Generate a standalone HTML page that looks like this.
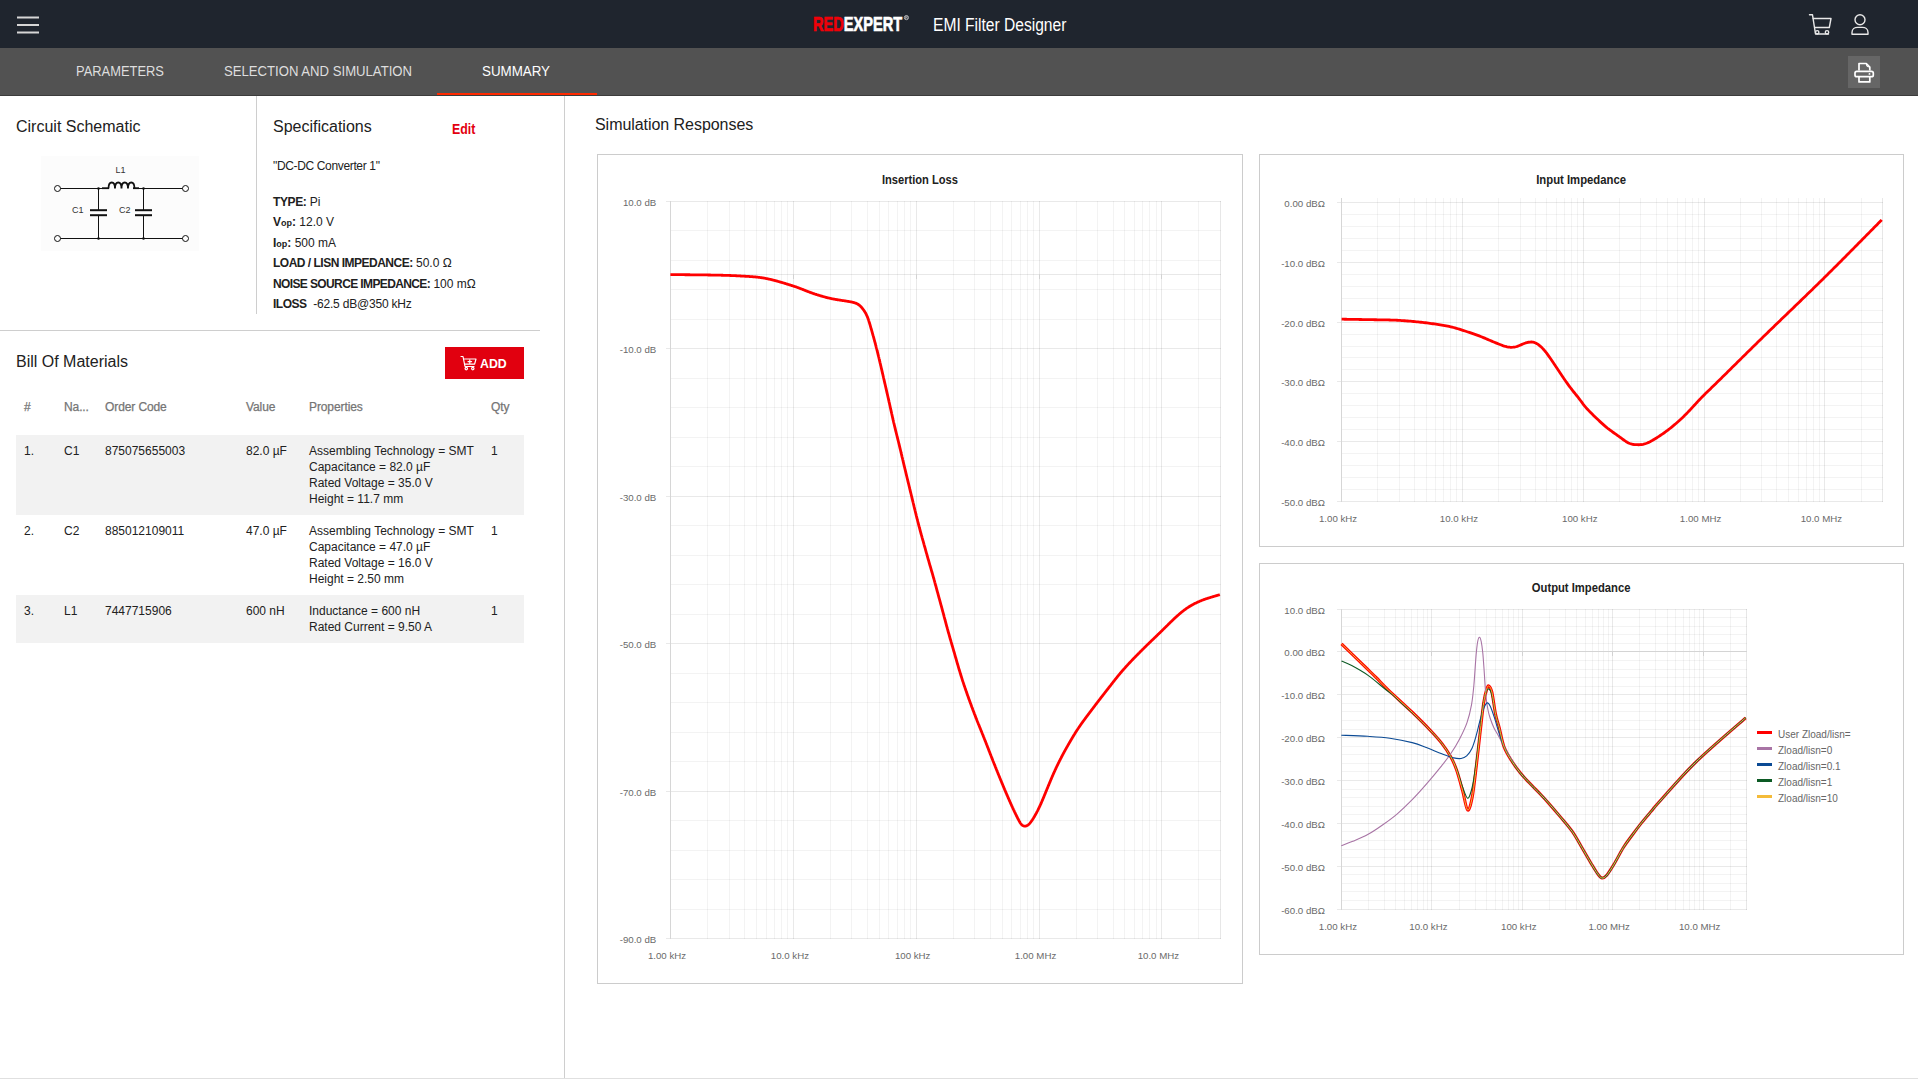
<!DOCTYPE html>
<html><head><meta charset="utf-8">
<style>
*{box-sizing:border-box;margin:0;padding:0}
html,body{width:1918px;height:1079px;overflow:hidden;background:#fff;font-family:"Liberation Sans",sans-serif;color:#212121}
.abs{position:absolute;white-space:nowrap}
#hdr{position:absolute;left:0;top:0;width:1918px;height:48px;background:#1f252e}
#tabs{position:absolute;left:0;top:48px;width:1918px;height:48px;background:#525252;border-bottom:1px solid #3c3c3c}
.tab{position:absolute;top:15px;font-size:14px;color:#dedede;line-height:16px;transform-origin:0 0;white-space:nowrap}
.h{font-size:16px;color:#212121;line-height:18px}
.sp{font-size:12px;line-height:14px;color:#212121}
.sp b{font-weight:700}
.th{font-size:12px;color:#757575;line-height:14px;font-weight:400;-webkit-text-stroke-width:0.25px;letter-spacing:-0.1px}
.td{font-size:12px;color:#212121;line-height:16px}
.charts{position:absolute;left:0;top:0}
.al{font-family:"Liberation Sans",sans-serif;font-size:9.7px;fill:#6a6a6a}
.ct{font-family:"Liberation Sans",sans-serif;font-size:12px;font-weight:700;fill:#212121}
.lg{font-family:"Liberation Sans",sans-serif;font-size:10px;fill:#666}
</style></head><body>
<div id="hdr">
  <svg class="abs" style="left:0;top:0" width="60" height="48">
    <g stroke="#d6d6d6" stroke-width="2"><line x1="17" y1="17.5" x2="39" y2="17.5"/><line x1="17" y1="25" x2="39" y2="25"/><line x1="17" y1="32.5" x2="39" y2="32.5"/></g>
  </svg>
  <div class="abs" style="left:813px;top:12px;font-size:20.4px;font-weight:700;line-height:24px;transform:scaleX(0.715);transform-origin:0 0;-webkit-text-stroke-width:0.7px"><span style="color:#f00008">RED</span><span style="color:#fff">EXPERT</span></div>
  <svg class="abs" style="left:902px;top:13px" width="9" height="9" viewBox="902 13 9 9"><circle cx="906.4" cy="17.6" r="2.1" fill="none" stroke="#d0d0d0" stroke-width="0.8"/><path d="M905.6,19 V16.3 H906.8 Q907.5,16.3 907.5,16.95 Q907.5,17.6 906.8,17.6 H905.6 M906.7,17.6 L907.5,19" fill="none" stroke="#d0d0d0" stroke-width="0.6"/></svg>
  <div class="abs" style="left:932.5px;top:14.5px;font-size:18px;color:#fff;line-height:20px;transform:scaleX(0.866);transform-origin:0 0">EMI Filter Designer</div>
  <svg class="abs" style="left:1800px;top:8px" width="80" height="34" viewBox="1800 8 80 34">
    <g fill="none" stroke="#e8e8e8" stroke-width="1.4" stroke-linejoin="round" stroke-linecap="round">
      <path d="M1809.5,14.8 H1812.5 L1815.5,34 H1828.5"/>
      <path d="M1813.2,18.5 H1831 L1829.3,27.5 H1814.7"/>
      <circle cx="1817.2" cy="32.3" r="1.7"/><circle cx="1827" cy="32.3" r="1.7"/>
      <circle cx="1860" cy="19.8" r="5"/>
      <path d="M1852,34.3 V32.5 C1852,29 1855,27.4 1857.5,27.4 H1862.5 C1865,27.4 1868,29 1868,32.5 V34.3 Z"/>
    </g>
  </svg>
</div>
<div id="tabs">
  <div class="tab" style="left:76.2px;transform:scaleX(0.922)">PARAMETERS</div>
  <div class="tab" style="left:224px;transform:scaleX(0.938)">SELECTION AND SIMULATION</div>
  <div class="tab" style="left:482px;color:#fff;transform:scaleX(0.954)">SUMMARY</div>
  <div class="abs" style="left:437px;top:45px;width:160px;height:2px;background:#ff2a00"></div>
  <div class="abs" style="left:1848px;top:8px;width:32px;height:32px;background:#666"></div>
  <svg class="abs" style="left:1848px;top:8px" width="32" height="32" viewBox="1848 56 32 32">
    <g fill="none" stroke="#fff" stroke-width="1.7" stroke-linejoin="round">
      <path d="M1859,70.6 V63.5 H1866.3 L1869.8,67 V70.6"/>
      <path d="M1866.3,63.5 Q1866.3,66.9 1869.8,67" stroke-width="1.1"/>
      <rect x="1855" y="71.3" width="18.3" height="5.4" rx="1.8"/>
      <path d="M1859,77 V81.9 H1869.8 V77"/>
    </g>
    <circle cx="1869.5" cy="73.9" r="0.95" fill="#fff"/>
  </svg>
</div>

<!-- dividers -->
<div class="abs" style="left:256px;top:96px;width:1px;height:218px;background:#cecece"></div>
<div class="abs" style="left:0;top:330px;width:540px;height:1px;background:#cecece"></div>
<div class="abs" style="left:564px;top:96px;width:1px;height:983px;background:#cecece"></div>
<div class="abs" style="left:0;top:1078px;width:1918px;height:1px;background:#e0e0e0"></div>

<!-- Circuit schematic -->
<div class="abs h" style="left:16px;top:118px">Circuit Schematic</div>
<svg class="abs" style="left:41px;top:156px" width="158" height="95" viewBox="41 156 158 95">
  <rect x="41" y="156" width="158" height="95" fill="#fcfcfc"/>
  <g stroke="#111" stroke-width="1" fill="none">
    <line x1="60.5" y1="188.5" x2="98.5" y2="188.5"/>
    <line x1="98.5" y1="188.5" x2="108" y2="188.5"/>
    <line x1="134" y1="188.5" x2="182.5" y2="188.5"/>
    <line x1="60.5" y1="238.5" x2="182.5" y2="238.5"/>
    <line x1="98.5" y1="188.5" x2="98.5" y2="210"/>
    <line x1="98.5" y1="215" x2="98.5" y2="238.5"/>
    <line x1="143.5" y1="188.5" x2="143.5" y2="210"/>
    <line x1="143.5" y1="215" x2="143.5" y2="238.5"/>
    <circle cx="57.5" cy="188.5" r="3"/><circle cx="185.5" cy="188.5" r="3"/>
    <circle cx="57.5" cy="238.5" r="3"/><circle cx="185.5" cy="238.5" r="3"/>
  </g>
  <g stroke="#111" stroke-width="1.8" fill="none">
    <line x1="102" y1="188.2" x2="109" y2="188.2"/>
    <line x1="133" y1="188.2" x2="139" y2="188.2"/>
    <path d="M108.5,188.5 C108.5,180.5 115,180.5 115,188.5 C115,180.5 121.5,180.5 121.5,188.5 C121.5,180.5 128,180.5 128,188.5 C128,180.5 134.5,180.5 134.5,188.5"/>
  </g>
  <g stroke="#111" stroke-width="2" fill="none">
    <line x1="90" y1="210.2" x2="107" y2="210.2"/><line x1="90" y1="215.2" x2="107" y2="215.2"/>
    <line x1="135" y1="210.2" x2="152" y2="210.2"/><line x1="135" y1="215.2" x2="152" y2="215.2"/>
  </g>
  <g fill="#111"><circle cx="98.5" cy="188.5" r="1.3"/><circle cx="143.5" cy="188.5" r="1.3"/><circle cx="98.5" cy="238.5" r="1.3"/><circle cx="143.5" cy="238.5" r="1.3"/></g>
  <g font-family="Liberation Sans" font-size="9" fill="#333">
    <text x="115.5" y="173">L1</text><text x="72" y="213">C1</text><text x="119" y="213">C2</text>
  </g>
</svg>

<!-- Specifications -->
<div class="abs h" style="left:273px;top:118px">Specifications</div>
<div class="abs" style="left:452.4px;top:122.2px;font-size:14.2px;font-weight:700;color:#e3000f;line-height:15px;transform:scaleX(0.87);transform-origin:0 0">Edit</div>
<div class="abs sp" style="left:273px;top:159px;letter-spacing:-0.35px">"DC-DC Converter 1"</div>
<div class="abs sp" style="left:273px;top:195px"><b style="letter-spacing:-0.4px">TYPE:</b> Pi</div>
<div class="abs sp" style="left:273px;top:215px"><b>V<span style="font-size:9px">op</span>:</b> 12.0 V</div>
<div class="abs sp" style="left:273px;top:236px"><b>I<span style="font-size:9px">op</span>:</b> 500 mA</div>
<div class="abs sp" style="left:273px;top:256px"><b style="letter-spacing:-0.5px">LOAD / LISN IMPEDANCE:</b> 50.0 Ω</div>
<div class="abs sp" style="left:273px;top:277px"><b style="letter-spacing:-0.62px">NOISE SOURCE IMPEDANCE:</b> 100 mΩ</div>
<div class="abs sp" style="left:273px;top:297px"><b style="letter-spacing:-0.5px">ILOSS</b>&nbsp; <span style="letter-spacing:-0.2px">-62.5 dB@350 kHz</span></div>

<!-- BOM -->
<div class="abs h" style="left:16px;top:353px">Bill Of Materials</div>
<div class="abs" style="left:445px;top:347px;width:79px;height:32px;background:#e1000f"></div>
<svg class="abs" style="left:460px;top:355px" width="18" height="16" viewBox="0 0 18 16">
  <g fill="none" stroke="#fff" stroke-width="1.2" stroke-linejoin="round" stroke-linecap="round">
    <path d="M1,1.5 H3 L5,11.5 H14"/><path d="M3.6,4 H16 L14.6,9.2 H4.6"/>
    <circle cx="6.3" cy="13.6" r="1.2"/><circle cx="12.8" cy="13.6" r="1.2"/>
    <path d="M9.8,4.8 V8.4 M8,6.6 H11.6"/>
  </g>
</svg>
<div class="abs" style="left:480.3px;top:355.6px;font-size:13.5px;font-weight:700;color:#fff;line-height:15px;transform:scaleX(0.915);transform-origin:0 0">ADD</div>

<div class="abs th" style="left:24px;top:400px">#</div>
<div class="abs th" style="left:64px;top:400px">Na...</div>
<div class="abs th" style="left:105px;top:400px">Order Code</div>
<div class="abs th" style="left:246px;top:400px">Value</div>
<div class="abs th" style="left:309px;top:400px">Properties</div>
<div class="abs th" style="left:491px;top:400px">Qty</div>

<div class="abs" style="left:16px;top:435px;width:508px;height:80px;background:#f2f2f2"></div>
<div class="abs" style="left:16px;top:595px;width:508px;height:48px;background:#f2f2f2"></div>

<div class="abs td" style="left:24px;top:443px">1.</div>
<div class="abs td" style="left:64px;top:443px">C1</div>
<div class="abs td" style="left:105px;top:443px">875075655003</div>
<div class="abs td" style="left:246px;top:443px">82.0 µF</div>
<div class="abs td" style="left:309px;top:443px">Assembling Technology = SMT<br>Capacitance = 82.0 µF<br>Rated Voltage = 35.0 V<br>Height = 11.7 mm</div>
<div class="abs td" style="left:491px;top:443px">1</div>

<div class="abs td" style="left:24px;top:523px">2.</div>
<div class="abs td" style="left:64px;top:523px">C2</div>
<div class="abs td" style="left:105px;top:523px">885012109011</div>
<div class="abs td" style="left:246px;top:523px">47.0 µF</div>
<div class="abs td" style="left:309px;top:523px">Assembling Technology = SMT<br>Capacitance = 47.0 µF<br>Rated Voltage = 16.0 V<br>Height = 2.50 mm</div>
<div class="abs td" style="left:491px;top:523px">1</div>

<div class="abs td" style="left:24px;top:603px">3.</div>
<div class="abs td" style="left:64px;top:603px">L1</div>
<div class="abs td" style="left:105px;top:603px">7447715906</div>
<div class="abs td" style="left:246px;top:603px">600 nH</div>
<div class="abs td" style="left:309px;top:603px">Inductance = 600 nH<br>Rated Current = 9.50 A</div>
<div class="abs td" style="left:491px;top:603px">1</div>

<!-- Simulation -->
<div class="abs h" style="left:595px;top:116px;letter-spacing:-0.05px">Simulation Responses</div>
<svg class="charts" width="1918" height="1079" viewBox="0 0 1918 1079">
<rect x="597.5" y="154.5" width="645" height="829" fill="#fff" stroke="#cccccc"/>
<rect x="1259.5" y="154.5" width="644" height="392" fill="#fff" stroke="#cccccc"/>
<rect x="1259.5" y="563.5" width="644" height="391" fill="#fff" stroke="#cccccc"/>
<text x="881.9" y="184" class="ct" textLength="76" lengthAdjust="spacingAndGlyphs">Insertion Loss</text>
<text x="1536.2" y="184" class="ct" textLength="89.8" lengthAdjust="spacingAndGlyphs">Input Impedance</text>
<text x="1531.8" y="592" class="ct" textLength="98.6" lengthAdjust="spacingAndGlyphs">Output Impedance</text>
<line x1="707.5" y1="201.0" x2="707.5" y2="939.0" stroke="rgba(0,0,0,0.048)"/>
<line x1="729.5" y1="201.0" x2="729.5" y2="939.0" stroke="rgba(0,0,0,0.048)"/>
<line x1="744.5" y1="201.0" x2="744.5" y2="939.0" stroke="rgba(0,0,0,0.048)"/>
<line x1="756.5" y1="201.0" x2="756.5" y2="939.0" stroke="rgba(0,0,0,0.048)"/>
<line x1="766.5" y1="201.0" x2="766.5" y2="939.0" stroke="rgba(0,0,0,0.048)"/>
<line x1="774.5" y1="201.0" x2="774.5" y2="939.0" stroke="rgba(0,0,0,0.048)"/>
<line x1="781.5" y1="201.0" x2="781.5" y2="939.0" stroke="rgba(0,0,0,0.048)"/>
<line x1="787.5" y1="201.0" x2="787.5" y2="939.0" stroke="rgba(0,0,0,0.048)"/>
<line x1="830.5" y1="201.0" x2="830.5" y2="939.0" stroke="rgba(0,0,0,0.048)"/>
<line x1="851.5" y1="201.0" x2="851.5" y2="939.0" stroke="rgba(0,0,0,0.048)"/>
<line x1="867.5" y1="201.0" x2="867.5" y2="939.0" stroke="rgba(0,0,0,0.048)"/>
<line x1="879.5" y1="201.0" x2="879.5" y2="939.0" stroke="rgba(0,0,0,0.048)"/>
<line x1="888.5" y1="201.0" x2="888.5" y2="939.0" stroke="rgba(0,0,0,0.048)"/>
<line x1="897.5" y1="201.0" x2="897.5" y2="939.0" stroke="rgba(0,0,0,0.048)"/>
<line x1="904.5" y1="201.0" x2="904.5" y2="939.0" stroke="rgba(0,0,0,0.048)"/>
<line x1="910.5" y1="201.0" x2="910.5" y2="939.0" stroke="rgba(0,0,0,0.048)"/>
<line x1="953.5" y1="201.0" x2="953.5" y2="939.0" stroke="rgba(0,0,0,0.048)"/>
<line x1="974.5" y1="201.0" x2="974.5" y2="939.0" stroke="rgba(0,0,0,0.048)"/>
<line x1="990.5" y1="201.0" x2="990.5" y2="939.0" stroke="rgba(0,0,0,0.048)"/>
<line x1="1002.5" y1="201.0" x2="1002.5" y2="939.0" stroke="rgba(0,0,0,0.048)"/>
<line x1="1011.5" y1="201.0" x2="1011.5" y2="939.0" stroke="rgba(0,0,0,0.048)"/>
<line x1="1020.5" y1="201.0" x2="1020.5" y2="939.0" stroke="rgba(0,0,0,0.048)"/>
<line x1="1027.5" y1="201.0" x2="1027.5" y2="939.0" stroke="rgba(0,0,0,0.048)"/>
<line x1="1033.5" y1="201.0" x2="1033.5" y2="939.0" stroke="rgba(0,0,0,0.048)"/>
<line x1="1076.5" y1="201.0" x2="1076.5" y2="939.0" stroke="rgba(0,0,0,0.048)"/>
<line x1="1097.5" y1="201.0" x2="1097.5" y2="939.0" stroke="rgba(0,0,0,0.048)"/>
<line x1="1113.5" y1="201.0" x2="1113.5" y2="939.0" stroke="rgba(0,0,0,0.048)"/>
<line x1="1124.5" y1="201.0" x2="1124.5" y2="939.0" stroke="rgba(0,0,0,0.048)"/>
<line x1="1134.5" y1="201.0" x2="1134.5" y2="939.0" stroke="rgba(0,0,0,0.048)"/>
<line x1="1142.5" y1="201.0" x2="1142.5" y2="939.0" stroke="rgba(0,0,0,0.048)"/>
<line x1="1149.5" y1="201.0" x2="1149.5" y2="939.0" stroke="rgba(0,0,0,0.048)"/>
<line x1="1156.5" y1="201.0" x2="1156.5" y2="939.0" stroke="rgba(0,0,0,0.048)"/>
<line x1="1198.5" y1="201.0" x2="1198.5" y2="939.0" stroke="rgba(0,0,0,0.048)"/>
<line x1="1220.5" y1="201.0" x2="1220.5" y2="939.0" stroke="rgba(0,0,0,0.048)"/>
<line x1="671.0" y1="230.5" x2="1221.0" y2="230.5" stroke="rgba(0,0,0,0.048)"/>
<line x1="671.0" y1="260.5" x2="1221.0" y2="260.5" stroke="rgba(0,0,0,0.048)"/>
<line x1="671.0" y1="289.5" x2="1221.0" y2="289.5" stroke="rgba(0,0,0,0.048)"/>
<line x1="671.0" y1="319.5" x2="1221.0" y2="319.5" stroke="rgba(0,0,0,0.048)"/>
<line x1="671.0" y1="378.5" x2="1221.0" y2="378.5" stroke="rgba(0,0,0,0.048)"/>
<line x1="671.0" y1="407.5" x2="1221.0" y2="407.5" stroke="rgba(0,0,0,0.048)"/>
<line x1="671.0" y1="437.5" x2="1221.0" y2="437.5" stroke="rgba(0,0,0,0.048)"/>
<line x1="671.0" y1="466.5" x2="1221.0" y2="466.5" stroke="rgba(0,0,0,0.048)"/>
<line x1="671.0" y1="525.5" x2="1221.0" y2="525.5" stroke="rgba(0,0,0,0.048)"/>
<line x1="671.0" y1="555.5" x2="1221.0" y2="555.5" stroke="rgba(0,0,0,0.048)"/>
<line x1="671.0" y1="584.5" x2="1221.0" y2="584.5" stroke="rgba(0,0,0,0.048)"/>
<line x1="671.0" y1="614.5" x2="1221.0" y2="614.5" stroke="rgba(0,0,0,0.048)"/>
<line x1="671.0" y1="673.5" x2="1221.0" y2="673.5" stroke="rgba(0,0,0,0.048)"/>
<line x1="671.0" y1="702.5" x2="1221.0" y2="702.5" stroke="rgba(0,0,0,0.048)"/>
<line x1="671.0" y1="732.5" x2="1221.0" y2="732.5" stroke="rgba(0,0,0,0.048)"/>
<line x1="671.0" y1="761.5" x2="1221.0" y2="761.5" stroke="rgba(0,0,0,0.048)"/>
<line x1="671.0" y1="820.5" x2="1221.0" y2="820.5" stroke="rgba(0,0,0,0.048)"/>
<line x1="671.0" y1="850.5" x2="1221.0" y2="850.5" stroke="rgba(0,0,0,0.048)"/>
<line x1="671.0" y1="879.5" x2="1221.0" y2="879.5" stroke="rgba(0,0,0,0.048)"/>
<line x1="671.0" y1="909.5" x2="1221.0" y2="909.5" stroke="rgba(0,0,0,0.048)"/>
<line x1="666.0" y1="201.5" x2="1221.0" y2="201.5" stroke="rgba(0,0,0,0.088)"/>
<line x1="666.0" y1="348.5" x2="1221.0" y2="348.5" stroke="rgba(0,0,0,0.088)"/>
<line x1="666.0" y1="496.5" x2="1221.0" y2="496.5" stroke="rgba(0,0,0,0.088)"/>
<line x1="666.0" y1="643.5" x2="1221.0" y2="643.5" stroke="rgba(0,0,0,0.088)"/>
<line x1="666.0" y1="791.5" x2="1221.0" y2="791.5" stroke="rgba(0,0,0,0.088)"/>
<line x1="666.0" y1="938.5" x2="1221.0" y2="938.5" stroke="rgba(0,0,0,0.088)"/>
<line x1="793.5" y1="201.0" x2="793.5" y2="939.0" stroke="rgba(0,0,0,0.088)"/>
<line x1="916.5" y1="201.0" x2="916.5" y2="939.0" stroke="rgba(0,0,0,0.088)"/>
<line x1="1039.5" y1="201.0" x2="1039.5" y2="939.0" stroke="rgba(0,0,0,0.088)"/>
<line x1="1161.5" y1="201.0" x2="1161.5" y2="939.0" stroke="rgba(0,0,0,0.088)"/>
<line x1="1220.5" y1="201.0" x2="1220.5" y2="939.0" stroke="rgba(0,0,0,0.048)"/>
<line x1="671.0" y1="274.5" x2="1221.0" y2="274.5" stroke="rgba(0,0,0,0.09)"/>
<line x1="793.5" y1="275.0" x2="793.5" y2="279.0" stroke="#d2d2d2"/>
<line x1="916.5" y1="275.0" x2="916.5" y2="279.0" stroke="#d2d2d2"/>
<line x1="1039.5" y1="275.0" x2="1039.5" y2="279.0" stroke="#d2d2d2"/>
<line x1="1161.5" y1="275.0" x2="1161.5" y2="279.0" stroke="#d2d2d2"/>
<line x1="670.5" y1="201.0" x2="670.5" y2="939.0" stroke="#d6d6d6"/>
<text x="656.3" y="205.8" text-anchor="end" class="al">10.0 dB</text>
<text x="656.3" y="352.8" text-anchor="end" class="al">-10.0 dB</text>
<text x="656.3" y="500.8" text-anchor="end" class="al">-30.0 dB</text>
<text x="656.3" y="647.8" text-anchor="end" class="al">-50.0 dB</text>
<text x="656.3" y="795.8" text-anchor="end" class="al">-70.0 dB</text>
<text x="656.3" y="942.8" text-anchor="end" class="al">-90.0 dB</text>
<text x="667.0" y="958.9" text-anchor="middle" class="al">1.00 kHz</text>
<text x="789.9" y="958.9" text-anchor="middle" class="al">10.0 kHz</text>
<text x="912.7" y="958.9" text-anchor="middle" class="al">100 kHz</text>
<text x="1035.5" y="958.9" text-anchor="middle" class="al">1.00 MHz</text>
<text x="1158.4" y="958.9" text-anchor="middle" class="al">10.0 MHz</text>
<line x1="1377.5" y1="198.0" x2="1377.5" y2="502.0" stroke="rgba(0,0,0,0.048)"/>
<line x1="1399.5" y1="198.0" x2="1399.5" y2="502.0" stroke="rgba(0,0,0,0.048)"/>
<line x1="1414.5" y1="198.0" x2="1414.5" y2="502.0" stroke="rgba(0,0,0,0.048)"/>
<line x1="1426.5" y1="198.0" x2="1426.5" y2="502.0" stroke="rgba(0,0,0,0.048)"/>
<line x1="1435.5" y1="198.0" x2="1435.5" y2="502.0" stroke="rgba(0,0,0,0.048)"/>
<line x1="1443.5" y1="198.0" x2="1443.5" y2="502.0" stroke="rgba(0,0,0,0.048)"/>
<line x1="1450.5" y1="198.0" x2="1450.5" y2="502.0" stroke="rgba(0,0,0,0.048)"/>
<line x1="1456.5" y1="198.0" x2="1456.5" y2="502.0" stroke="rgba(0,0,0,0.048)"/>
<line x1="1498.5" y1="198.0" x2="1498.5" y2="502.0" stroke="rgba(0,0,0,0.048)"/>
<line x1="1520.5" y1="198.0" x2="1520.5" y2="502.0" stroke="rgba(0,0,0,0.048)"/>
<line x1="1535.5" y1="198.0" x2="1535.5" y2="502.0" stroke="rgba(0,0,0,0.048)"/>
<line x1="1546.5" y1="198.0" x2="1546.5" y2="502.0" stroke="rgba(0,0,0,0.048)"/>
<line x1="1556.5" y1="198.0" x2="1556.5" y2="502.0" stroke="rgba(0,0,0,0.048)"/>
<line x1="1564.5" y1="198.0" x2="1564.5" y2="502.0" stroke="rgba(0,0,0,0.048)"/>
<line x1="1571.5" y1="198.0" x2="1571.5" y2="502.0" stroke="rgba(0,0,0,0.048)"/>
<line x1="1577.5" y1="198.0" x2="1577.5" y2="502.0" stroke="rgba(0,0,0,0.048)"/>
<line x1="1619.5" y1="198.0" x2="1619.5" y2="502.0" stroke="rgba(0,0,0,0.048)"/>
<line x1="1640.5" y1="198.0" x2="1640.5" y2="502.0" stroke="rgba(0,0,0,0.048)"/>
<line x1="1656.5" y1="198.0" x2="1656.5" y2="502.0" stroke="rgba(0,0,0,0.048)"/>
<line x1="1667.5" y1="198.0" x2="1667.5" y2="502.0" stroke="rgba(0,0,0,0.048)"/>
<line x1="1677.5" y1="198.0" x2="1677.5" y2="502.0" stroke="rgba(0,0,0,0.048)"/>
<line x1="1685.5" y1="198.0" x2="1685.5" y2="502.0" stroke="rgba(0,0,0,0.048)"/>
<line x1="1692.5" y1="198.0" x2="1692.5" y2="502.0" stroke="rgba(0,0,0,0.048)"/>
<line x1="1698.5" y1="198.0" x2="1698.5" y2="502.0" stroke="rgba(0,0,0,0.048)"/>
<line x1="1740.5" y1="198.0" x2="1740.5" y2="502.0" stroke="rgba(0,0,0,0.048)"/>
<line x1="1761.5" y1="198.0" x2="1761.5" y2="502.0" stroke="rgba(0,0,0,0.048)"/>
<line x1="1776.5" y1="198.0" x2="1776.5" y2="502.0" stroke="rgba(0,0,0,0.048)"/>
<line x1="1788.5" y1="198.0" x2="1788.5" y2="502.0" stroke="rgba(0,0,0,0.048)"/>
<line x1="1798.5" y1="198.0" x2="1798.5" y2="502.0" stroke="rgba(0,0,0,0.048)"/>
<line x1="1806.5" y1="198.0" x2="1806.5" y2="502.0" stroke="rgba(0,0,0,0.048)"/>
<line x1="1813.5" y1="198.0" x2="1813.5" y2="502.0" stroke="rgba(0,0,0,0.048)"/>
<line x1="1819.5" y1="198.0" x2="1819.5" y2="502.0" stroke="rgba(0,0,0,0.048)"/>
<line x1="1861.5" y1="198.0" x2="1861.5" y2="502.0" stroke="rgba(0,0,0,0.048)"/>
<line x1="1882.5" y1="198.0" x2="1882.5" y2="502.0" stroke="rgba(0,0,0,0.048)"/>
<line x1="1342.0" y1="214.5" x2="1883.0" y2="214.5" stroke="rgba(0,0,0,0.048)"/>
<line x1="1342.0" y1="226.5" x2="1883.0" y2="226.5" stroke="rgba(0,0,0,0.048)"/>
<line x1="1342.0" y1="238.5" x2="1883.0" y2="238.5" stroke="rgba(0,0,0,0.048)"/>
<line x1="1342.0" y1="250.5" x2="1883.0" y2="250.5" stroke="rgba(0,0,0,0.048)"/>
<line x1="1342.0" y1="274.5" x2="1883.0" y2="274.5" stroke="rgba(0,0,0,0.048)"/>
<line x1="1342.0" y1="286.5" x2="1883.0" y2="286.5" stroke="rgba(0,0,0,0.048)"/>
<line x1="1342.0" y1="298.5" x2="1883.0" y2="298.5" stroke="rgba(0,0,0,0.048)"/>
<line x1="1342.0" y1="310.5" x2="1883.0" y2="310.5" stroke="rgba(0,0,0,0.048)"/>
<line x1="1342.0" y1="334.5" x2="1883.0" y2="334.5" stroke="rgba(0,0,0,0.048)"/>
<line x1="1342.0" y1="346.5" x2="1883.0" y2="346.5" stroke="rgba(0,0,0,0.048)"/>
<line x1="1342.0" y1="357.5" x2="1883.0" y2="357.5" stroke="rgba(0,0,0,0.048)"/>
<line x1="1342.0" y1="369.5" x2="1883.0" y2="369.5" stroke="rgba(0,0,0,0.048)"/>
<line x1="1342.0" y1="393.5" x2="1883.0" y2="393.5" stroke="rgba(0,0,0,0.048)"/>
<line x1="1342.0" y1="405.5" x2="1883.0" y2="405.5" stroke="rgba(0,0,0,0.048)"/>
<line x1="1342.0" y1="417.5" x2="1883.0" y2="417.5" stroke="rgba(0,0,0,0.048)"/>
<line x1="1342.0" y1="429.5" x2="1883.0" y2="429.5" stroke="rgba(0,0,0,0.048)"/>
<line x1="1342.0" y1="453.5" x2="1883.0" y2="453.5" stroke="rgba(0,0,0,0.048)"/>
<line x1="1342.0" y1="465.5" x2="1883.0" y2="465.5" stroke="rgba(0,0,0,0.048)"/>
<line x1="1342.0" y1="477.5" x2="1883.0" y2="477.5" stroke="rgba(0,0,0,0.048)"/>
<line x1="1342.0" y1="489.5" x2="1883.0" y2="489.5" stroke="rgba(0,0,0,0.048)"/>
<line x1="1337.0" y1="202.5" x2="1883.0" y2="202.5" stroke="rgba(0,0,0,0.088)"/>
<line x1="1337.0" y1="262.5" x2="1883.0" y2="262.5" stroke="rgba(0,0,0,0.088)"/>
<line x1="1337.0" y1="322.5" x2="1883.0" y2="322.5" stroke="rgba(0,0,0,0.088)"/>
<line x1="1337.0" y1="381.5" x2="1883.0" y2="381.5" stroke="rgba(0,0,0,0.088)"/>
<line x1="1337.0" y1="441.5" x2="1883.0" y2="441.5" stroke="rgba(0,0,0,0.088)"/>
<line x1="1337.0" y1="501.5" x2="1883.0" y2="501.5" stroke="rgba(0,0,0,0.088)"/>
<line x1="1462.5" y1="198.0" x2="1462.5" y2="502.0" stroke="rgba(0,0,0,0.088)"/>
<line x1="1583.5" y1="198.0" x2="1583.5" y2="502.0" stroke="rgba(0,0,0,0.088)"/>
<line x1="1704.5" y1="198.0" x2="1704.5" y2="502.0" stroke="rgba(0,0,0,0.088)"/>
<line x1="1824.5" y1="198.0" x2="1824.5" y2="502.0" stroke="rgba(0,0,0,0.088)"/>
<line x1="1882.5" y1="198.0" x2="1882.5" y2="502.0" stroke="rgba(0,0,0,0.048)"/>
<line x1="1341.5" y1="198.0" x2="1341.5" y2="502.0" stroke="#d6d6d6"/>
<text x="1325" y="206.8" text-anchor="end" class="al">0.00 dBΩ</text>
<text x="1325" y="266.8" text-anchor="end" class="al">-10.0 dBΩ</text>
<text x="1325" y="326.8" text-anchor="end" class="al">-20.0 dBΩ</text>
<text x="1325" y="385.8" text-anchor="end" class="al">-30.0 dBΩ</text>
<text x="1325" y="445.8" text-anchor="end" class="al">-40.0 dBΩ</text>
<text x="1325" y="505.8" text-anchor="end" class="al">-50.0 dBΩ</text>
<text x="1338.1" y="521.9" text-anchor="middle" class="al">1.00 kHz</text>
<text x="1458.9" y="521.9" text-anchor="middle" class="al">10.0 kHz</text>
<text x="1579.8" y="521.9" text-anchor="middle" class="al">100 kHz</text>
<text x="1700.6" y="521.9" text-anchor="middle" class="al">1.00 MHz</text>
<text x="1821.4" y="521.9" text-anchor="middle" class="al">10.0 MHz</text>
<line x1="1368.5" y1="609.0" x2="1368.5" y2="910.0" stroke="rgba(0,0,0,0.048)"/>
<line x1="1384.5" y1="609.0" x2="1384.5" y2="910.0" stroke="rgba(0,0,0,0.048)"/>
<line x1="1395.5" y1="609.0" x2="1395.5" y2="910.0" stroke="rgba(0,0,0,0.048)"/>
<line x1="1404.5" y1="609.0" x2="1404.5" y2="910.0" stroke="rgba(0,0,0,0.048)"/>
<line x1="1411.5" y1="609.0" x2="1411.5" y2="910.0" stroke="rgba(0,0,0,0.048)"/>
<line x1="1417.5" y1="609.0" x2="1417.5" y2="910.0" stroke="rgba(0,0,0,0.048)"/>
<line x1="1423.5" y1="609.0" x2="1423.5" y2="910.0" stroke="rgba(0,0,0,0.048)"/>
<line x1="1427.5" y1="609.0" x2="1427.5" y2="910.0" stroke="rgba(0,0,0,0.048)"/>
<line x1="1459.5" y1="609.0" x2="1459.5" y2="910.0" stroke="rgba(0,0,0,0.048)"/>
<line x1="1475.5" y1="609.0" x2="1475.5" y2="910.0" stroke="rgba(0,0,0,0.048)"/>
<line x1="1486.5" y1="609.0" x2="1486.5" y2="910.0" stroke="rgba(0,0,0,0.048)"/>
<line x1="1495.5" y1="609.0" x2="1495.5" y2="910.0" stroke="rgba(0,0,0,0.048)"/>
<line x1="1502.5" y1="609.0" x2="1502.5" y2="910.0" stroke="rgba(0,0,0,0.048)"/>
<line x1="1508.5" y1="609.0" x2="1508.5" y2="910.0" stroke="rgba(0,0,0,0.048)"/>
<line x1="1513.5" y1="609.0" x2="1513.5" y2="910.0" stroke="rgba(0,0,0,0.048)"/>
<line x1="1518.5" y1="609.0" x2="1518.5" y2="910.0" stroke="rgba(0,0,0,0.048)"/>
<line x1="1549.5" y1="609.0" x2="1549.5" y2="910.0" stroke="rgba(0,0,0,0.048)"/>
<line x1="1565.5" y1="609.0" x2="1565.5" y2="910.0" stroke="rgba(0,0,0,0.048)"/>
<line x1="1576.5" y1="609.0" x2="1576.5" y2="910.0" stroke="rgba(0,0,0,0.048)"/>
<line x1="1585.5" y1="609.0" x2="1585.5" y2="910.0" stroke="rgba(0,0,0,0.048)"/>
<line x1="1592.5" y1="609.0" x2="1592.5" y2="910.0" stroke="rgba(0,0,0,0.048)"/>
<line x1="1598.5" y1="609.0" x2="1598.5" y2="910.0" stroke="rgba(0,0,0,0.048)"/>
<line x1="1603.5" y1="609.0" x2="1603.5" y2="910.0" stroke="rgba(0,0,0,0.048)"/>
<line x1="1608.5" y1="609.0" x2="1608.5" y2="910.0" stroke="rgba(0,0,0,0.048)"/>
<line x1="1639.5" y1="609.0" x2="1639.5" y2="910.0" stroke="rgba(0,0,0,0.048)"/>
<line x1="1655.5" y1="609.0" x2="1655.5" y2="910.0" stroke="rgba(0,0,0,0.048)"/>
<line x1="1667.5" y1="609.0" x2="1667.5" y2="910.0" stroke="rgba(0,0,0,0.048)"/>
<line x1="1675.5" y1="609.0" x2="1675.5" y2="910.0" stroke="rgba(0,0,0,0.048)"/>
<line x1="1683.5" y1="609.0" x2="1683.5" y2="910.0" stroke="rgba(0,0,0,0.048)"/>
<line x1="1689.5" y1="609.0" x2="1689.5" y2="910.0" stroke="rgba(0,0,0,0.048)"/>
<line x1="1694.5" y1="609.0" x2="1694.5" y2="910.0" stroke="rgba(0,0,0,0.048)"/>
<line x1="1699.5" y1="609.0" x2="1699.5" y2="910.0" stroke="rgba(0,0,0,0.048)"/>
<line x1="1730.5" y1="609.0" x2="1730.5" y2="910.0" stroke="rgba(0,0,0,0.048)"/>
<line x1="1746.5" y1="609.0" x2="1746.5" y2="910.0" stroke="rgba(0,0,0,0.048)"/>
<line x1="1342.0" y1="617.5" x2="1747.0" y2="617.5" stroke="rgba(0,0,0,0.048)"/>
<line x1="1342.0" y1="626.5" x2="1747.0" y2="626.5" stroke="rgba(0,0,0,0.048)"/>
<line x1="1342.0" y1="634.5" x2="1747.0" y2="634.5" stroke="rgba(0,0,0,0.048)"/>
<line x1="1342.0" y1="643.5" x2="1747.0" y2="643.5" stroke="rgba(0,0,0,0.048)"/>
<line x1="1342.0" y1="660.5" x2="1747.0" y2="660.5" stroke="rgba(0,0,0,0.048)"/>
<line x1="1342.0" y1="669.5" x2="1747.0" y2="669.5" stroke="rgba(0,0,0,0.048)"/>
<line x1="1342.0" y1="677.5" x2="1747.0" y2="677.5" stroke="rgba(0,0,0,0.048)"/>
<line x1="1342.0" y1="686.5" x2="1747.0" y2="686.5" stroke="rgba(0,0,0,0.048)"/>
<line x1="1342.0" y1="703.5" x2="1747.0" y2="703.5" stroke="rgba(0,0,0,0.048)"/>
<line x1="1342.0" y1="711.5" x2="1747.0" y2="711.5" stroke="rgba(0,0,0,0.048)"/>
<line x1="1342.0" y1="720.5" x2="1747.0" y2="720.5" stroke="rgba(0,0,0,0.048)"/>
<line x1="1342.0" y1="729.5" x2="1747.0" y2="729.5" stroke="rgba(0,0,0,0.048)"/>
<line x1="1342.0" y1="746.5" x2="1747.0" y2="746.5" stroke="rgba(0,0,0,0.048)"/>
<line x1="1342.0" y1="754.5" x2="1747.0" y2="754.5" stroke="rgba(0,0,0,0.048)"/>
<line x1="1342.0" y1="763.5" x2="1747.0" y2="763.5" stroke="rgba(0,0,0,0.048)"/>
<line x1="1342.0" y1="771.5" x2="1747.0" y2="771.5" stroke="rgba(0,0,0,0.048)"/>
<line x1="1342.0" y1="789.5" x2="1747.0" y2="789.5" stroke="rgba(0,0,0,0.048)"/>
<line x1="1342.0" y1="797.5" x2="1747.0" y2="797.5" stroke="rgba(0,0,0,0.048)"/>
<line x1="1342.0" y1="806.5" x2="1747.0" y2="806.5" stroke="rgba(0,0,0,0.048)"/>
<line x1="1342.0" y1="814.5" x2="1747.0" y2="814.5" stroke="rgba(0,0,0,0.048)"/>
<line x1="1342.0" y1="831.5" x2="1747.0" y2="831.5" stroke="rgba(0,0,0,0.048)"/>
<line x1="1342.0" y1="840.5" x2="1747.0" y2="840.5" stroke="rgba(0,0,0,0.048)"/>
<line x1="1342.0" y1="849.5" x2="1747.0" y2="849.5" stroke="rgba(0,0,0,0.048)"/>
<line x1="1342.0" y1="857.5" x2="1747.0" y2="857.5" stroke="rgba(0,0,0,0.048)"/>
<line x1="1342.0" y1="874.5" x2="1747.0" y2="874.5" stroke="rgba(0,0,0,0.048)"/>
<line x1="1342.0" y1="883.5" x2="1747.0" y2="883.5" stroke="rgba(0,0,0,0.048)"/>
<line x1="1342.0" y1="891.5" x2="1747.0" y2="891.5" stroke="rgba(0,0,0,0.048)"/>
<line x1="1342.0" y1="900.5" x2="1747.0" y2="900.5" stroke="rgba(0,0,0,0.048)"/>
<line x1="1337.0" y1="609.5" x2="1747.0" y2="609.5" stroke="rgba(0,0,0,0.088)"/>
<line x1="1337.0" y1="651.5" x2="1747.0" y2="651.5" stroke="rgba(0,0,0,0.088)"/>
<line x1="1337.0" y1="694.5" x2="1747.0" y2="694.5" stroke="rgba(0,0,0,0.088)"/>
<line x1="1337.0" y1="737.5" x2="1747.0" y2="737.5" stroke="rgba(0,0,0,0.088)"/>
<line x1="1337.0" y1="780.5" x2="1747.0" y2="780.5" stroke="rgba(0,0,0,0.088)"/>
<line x1="1337.0" y1="823.5" x2="1747.0" y2="823.5" stroke="rgba(0,0,0,0.088)"/>
<line x1="1337.0" y1="866.5" x2="1747.0" y2="866.5" stroke="rgba(0,0,0,0.088)"/>
<line x1="1337.0" y1="909.5" x2="1747.0" y2="909.5" stroke="rgba(0,0,0,0.088)"/>
<line x1="1431.5" y1="609.0" x2="1431.5" y2="910.0" stroke="rgba(0,0,0,0.088)"/>
<line x1="1522.5" y1="609.0" x2="1522.5" y2="910.0" stroke="rgba(0,0,0,0.088)"/>
<line x1="1612.5" y1="609.0" x2="1612.5" y2="910.0" stroke="rgba(0,0,0,0.088)"/>
<line x1="1703.5" y1="609.0" x2="1703.5" y2="910.0" stroke="rgba(0,0,0,0.088)"/>
<line x1="1746.5" y1="609.0" x2="1746.5" y2="910.0" stroke="rgba(0,0,0,0.048)"/>
<line x1="1342.0" y1="651.5" x2="1747.0" y2="651.5" stroke="#d4d4d4"/>
<line x1="1431.5" y1="652.0" x2="1431.5" y2="656.0" stroke="#d2d2d2"/>
<line x1="1522.5" y1="652.0" x2="1522.5" y2="656.0" stroke="#d2d2d2"/>
<line x1="1612.5" y1="652.0" x2="1612.5" y2="656.0" stroke="#d2d2d2"/>
<line x1="1703.5" y1="652.0" x2="1703.5" y2="656.0" stroke="#d2d2d2"/>
<line x1="1341.5" y1="609.0" x2="1341.5" y2="910.0" stroke="#d6d6d6"/>
<text x="1325" y="613.8" text-anchor="end" class="al">10.0 dBΩ</text>
<text x="1325" y="655.8" text-anchor="end" class="al">0.00 dBΩ</text>
<text x="1325" y="698.8" text-anchor="end" class="al">-10.0 dBΩ</text>
<text x="1325" y="741.8" text-anchor="end" class="al">-20.0 dBΩ</text>
<text x="1325" y="784.8" text-anchor="end" class="al">-30.0 dBΩ</text>
<text x="1325" y="827.8" text-anchor="end" class="al">-40.0 dBΩ</text>
<text x="1325" y="870.8" text-anchor="end" class="al">-50.0 dBΩ</text>
<text x="1325" y="913.8" text-anchor="end" class="al">-60.0 dBΩ</text>
<text x="1337.9" y="929.9" text-anchor="middle" class="al">1.00 kHz</text>
<text x="1428.4" y="929.9" text-anchor="middle" class="al">10.0 kHz</text>
<text x="1518.8" y="929.9" text-anchor="middle" class="al">100 kHz</text>
<text x="1609.2" y="929.9" text-anchor="middle" class="al">1.00 MHz</text>
<text x="1699.7" y="929.9" text-anchor="middle" class="al">10.0 MHz</text>
<path d="M670.40,274.60 L670.90,274.60 L671.40,274.61 L671.90,274.61 L672.40,274.62 L672.90,274.62 L673.40,274.63 L673.90,274.63 L674.40,274.64 L674.90,274.64 L675.40,274.65 L675.90,274.65 L676.40,274.65 L676.90,274.66 L677.40,274.66 L677.90,274.67 L678.40,274.67 L678.90,274.68 L679.40,274.68 L679.90,274.68 L680.40,274.69 L680.90,274.69 L681.40,274.70 L681.90,274.70 L682.40,274.70 L682.90,274.71 L683.40,274.71 L683.90,274.72 L684.40,274.72 L684.90,274.73 L685.40,274.73 L685.90,274.73 L686.40,274.74 L686.90,274.74 L687.40,274.75 L687.90,274.75 L688.40,274.76 L688.90,274.76 L689.40,274.77 L689.90,274.77 L690.40,274.78 L690.90,274.78 L691.40,274.78 L691.90,274.79 L692.40,274.79 L692.90,274.80 L693.40,274.80 L693.90,274.81 L694.40,274.81 L694.90,274.82 L695.40,274.82 L695.90,274.83 L696.40,274.83 L696.90,274.84 L697.40,274.84 L697.90,274.85 L698.40,274.86 L698.90,274.86 L699.40,274.87 L699.90,274.87 L700.40,274.88 L700.90,274.88 L701.40,274.89 L701.90,274.90 L702.40,274.90 L702.90,274.91 L703.40,274.92 L703.90,274.92 L704.40,274.93 L704.90,274.94 L705.40,274.94 L705.90,274.95 L706.40,274.96 L706.90,274.97 L707.40,274.97 L707.90,274.98 L708.40,274.99 L708.90,275.00 L709.40,275.01 L709.90,275.01 L710.40,275.02 L710.90,275.03 L711.40,275.04 L711.90,275.05 L712.40,275.06 L712.90,275.06 L713.40,275.07 L713.90,275.08 L714.40,275.09 L714.90,275.10 L715.40,275.11 L715.90,275.12 L716.40,275.13 L716.90,275.14 L717.40,275.15 L717.90,275.16 L718.40,275.17 L718.90,275.18 L719.40,275.19 L719.90,275.20 L720.40,275.21 L720.90,275.22 L721.40,275.23 L721.90,275.25 L722.40,275.26 L722.90,275.27 L723.39,275.28 L723.89,275.30 L724.39,275.31 L724.89,275.32 L725.39,275.34 L725.89,275.35 L726.39,275.37 L726.89,275.38 L727.39,275.40 L727.89,275.42 L728.39,275.43 L728.89,275.45 L729.39,275.47 L729.89,275.48 L730.39,275.50 L730.89,275.52 L731.39,275.54 L731.89,275.56 L732.39,275.58 L732.89,275.60 L733.39,275.62 L733.89,275.65 L734.39,275.67 L734.89,275.69 L735.39,275.72 L735.89,275.74 L736.39,275.76 L736.89,275.79 L737.38,275.82 L737.88,275.84 L738.38,275.87 L738.88,275.90 L739.38,275.92 L739.88,275.95 L740.38,275.98 L740.88,276.01 L741.38,276.03 L741.88,276.06 L742.38,276.09 L742.88,276.12 L743.38,276.15 L743.87,276.18 L744.37,276.20 L744.87,276.23 L745.37,276.26 L745.87,276.29 L746.37,276.32 L746.87,276.35 L747.37,276.38 L747.87,276.40 L748.37,276.43 L748.87,276.47 L749.37,276.50 L749.86,276.53 L750.36,276.56 L750.86,276.60 L751.36,276.63 L751.86,276.67 L752.36,276.70 L752.86,276.74 L753.35,276.78 L753.85,276.82 L754.35,276.87 L754.85,276.91 L755.35,276.96 L755.84,277.00 L756.34,277.05 L756.84,277.11 L757.34,277.16 L757.83,277.21 L758.33,277.27 L758.83,277.33 L759.32,277.39 L759.82,277.46 L760.31,277.53 L760.81,277.60 L761.30,277.67 L761.80,277.74 L762.29,277.82 L762.79,277.90 L763.28,277.98 L763.77,278.06 L764.27,278.15 L764.76,278.23 L765.25,278.32 L765.74,278.42 L766.23,278.51 L766.72,278.61 L767.21,278.71 L767.70,278.81 L768.19,278.92 L768.68,279.02 L769.17,279.13 L769.65,279.24 L770.14,279.35 L770.63,279.47 L771.12,279.58 L771.60,279.70 L772.09,279.82 L772.57,279.94 L773.06,280.06 L773.54,280.19 L774.03,280.31 L774.51,280.44 L774.99,280.57 L775.48,280.69 L775.96,280.82 L776.44,280.96 L776.92,281.09 L777.41,281.22 L777.89,281.35 L778.37,281.49 L778.85,281.63 L779.33,281.76 L779.81,281.90 L780.29,282.04 L780.77,282.18 L781.25,282.32 L781.73,282.46 L782.21,282.60 L782.69,282.74 L783.17,282.89 L783.65,283.03 L784.13,283.17 L784.61,283.32 L785.08,283.46 L785.56,283.61 L786.04,283.75 L786.52,283.90 L787.00,284.05 L787.48,284.19 L787.95,284.34 L788.43,284.49 L788.91,284.64 L789.39,284.79 L789.86,284.94 L790.34,285.09 L790.82,285.24 L791.29,285.39 L791.77,285.54 L792.25,285.69 L792.72,285.84 L793.20,286.00 L793.67,286.15 L794.15,286.31 L794.62,286.47 L795.10,286.63 L795.57,286.79 L796.04,286.95 L796.51,287.11 L796.99,287.28 L797.46,287.45 L797.93,287.62 L798.40,287.79 L798.87,287.97 L799.33,288.14 L799.80,288.32 L800.27,288.50 L800.73,288.68 L801.20,288.86 L801.67,289.04 L802.13,289.22 L802.60,289.41 L803.06,289.59 L803.52,289.78 L803.99,289.97 L804.45,290.15 L804.92,290.34 L805.38,290.52 L805.84,290.71 L806.31,290.90 L806.77,291.08 L807.24,291.26 L807.70,291.45 L808.17,291.63 L808.64,291.81 L809.10,291.99 L809.57,292.16 L810.04,292.34 L810.51,292.51 L810.98,292.68 L811.45,292.85 L811.92,293.02 L812.39,293.19 L812.86,293.35 L813.34,293.51 L813.81,293.67 L814.28,293.83 L814.76,293.99 L815.23,294.15 L815.71,294.30 L816.19,294.45 L816.66,294.61 L817.14,294.76 L817.61,294.91 L818.09,295.06 L818.57,295.21 L819.05,295.36 L819.52,295.50 L820.00,295.65 L820.48,295.79 L820.96,295.93 L821.44,296.07 L821.92,296.21 L822.40,296.35 L822.88,296.49 L823.36,296.62 L823.85,296.76 L824.33,296.89 L824.81,297.02 L825.29,297.15 L825.78,297.28 L826.26,297.40 L826.75,297.53 L827.23,297.65 L827.72,297.77 L828.20,297.89 L828.69,298.01 L829.17,298.12 L829.66,298.23 L830.15,298.34 L830.64,298.45 L831.13,298.56 L831.61,298.66 L832.10,298.77 L832.59,298.87 L833.08,298.96 L833.57,299.06 L834.07,299.15 L834.56,299.24 L835.05,299.33 L835.54,299.42 L836.03,299.50 L836.53,299.59 L837.02,299.67 L837.51,299.75 L838.01,299.83 L838.50,299.91 L839.00,299.99 L839.49,300.06 L839.98,300.14 L840.48,300.21 L840.97,300.29 L841.47,300.36 L841.96,300.43 L842.46,300.51 L842.95,300.58 L843.45,300.65 L843.94,300.73 L844.43,300.80 L844.93,300.87 L845.42,300.95 L845.92,301.03 L846.41,301.10 L846.91,301.18 L847.40,301.26 L847.89,301.34 L848.39,301.42 L848.88,301.51 L849.37,301.59 L849.86,301.68 L850.35,301.77 L850.85,301.87 L851.34,301.97 L851.82,302.07 L852.31,302.18 L852.80,302.30 L853.29,302.42 L853.77,302.54 L854.25,302.68 L854.73,302.83 L855.20,302.98 L855.67,303.15 L856.14,303.34 L856.60,303.54 L857.05,303.75 L857.49,303.98 L857.92,304.23 L858.35,304.50 L858.76,304.78 L859.16,305.08 L859.55,305.39 L859.93,305.72 L860.30,306.05 L860.66,306.40 L861.01,306.76 L861.34,307.13 L861.67,307.51 L861.99,307.89 L862.31,308.28 L862.62,308.67 L862.92,309.07 L863.22,309.47 L863.52,309.87 L863.81,310.28 L864.09,310.69 L864.37,311.10 L864.65,311.52 L864.91,311.95 L865.17,312.37 L865.42,312.81 L865.67,313.24 L865.90,313.68 L866.13,314.13 L866.35,314.58 L866.57,315.03 L866.78,315.48 L866.98,315.94 L867.17,316.40 L867.37,316.86 L867.55,317.33 L867.73,317.79 L867.91,318.26 L868.08,318.73 L868.25,319.20 L868.41,319.67 L868.58,320.14 L868.73,320.62 L868.89,321.09 L869.04,321.57 L869.19,322.05 L869.34,322.52 L869.49,323.00 L869.63,323.48 L869.78,323.96 L869.92,324.44 L870.06,324.92 L870.20,325.40 L870.34,325.88 L870.48,326.36 L870.62,326.84 L870.75,327.32 L870.89,327.80 L871.03,328.28 L871.17,328.76 L871.31,329.24 L871.45,329.72 L871.58,330.20 L871.72,330.68 L871.86,331.16 L872.00,331.65 L872.14,332.13 L872.27,332.61 L872.41,333.09 L872.55,333.57 L872.68,334.05 L872.82,334.53 L872.95,335.01 L873.09,335.49 L873.22,335.98 L873.36,336.46 L873.49,336.94 L873.62,337.42 L873.76,337.90 L873.89,338.39 L874.02,338.87 L874.15,339.35 L874.29,339.83 L874.42,340.31 L874.55,340.80 L874.68,341.28 L874.81,341.76 L874.94,342.25 L875.07,342.73 L875.19,343.21 L875.32,343.70 L875.45,344.18 L875.58,344.66 L875.70,345.15 L875.83,345.63 L875.96,346.11 L876.08,346.60 L876.21,347.08 L876.33,347.57 L876.46,348.05 L876.58,348.53 L876.70,349.02 L876.83,349.50 L876.95,349.99 L877.07,350.47 L877.19,350.96 L877.32,351.44 L877.44,351.93 L877.56,352.41 L877.68,352.90 L877.80,353.38 L877.92,353.87 L878.04,354.35 L878.16,354.84 L878.28,355.33 L878.40,355.81 L878.51,356.30 L878.63,356.78 L878.75,357.27 L878.87,357.75 L878.99,358.24 L879.10,358.73 L879.22,359.21 L879.34,359.70 L879.45,360.19 L879.57,360.67 L879.69,361.16 L879.80,361.64 L879.92,362.13 L880.03,362.62 L880.15,363.10 L880.26,363.59 L880.38,364.08 L880.49,364.56 L880.61,365.05 L880.72,365.54 L880.83,366.02 L880.95,366.51 L881.06,367.00 L881.18,367.49 L881.29,367.97 L881.40,368.46 L881.52,368.95 L881.63,369.43 L881.74,369.92 L881.86,370.41 L881.97,370.89 L882.08,371.38 L882.19,371.87 L882.31,372.36 L882.42,372.84 L882.53,373.33 L882.65,373.82 L882.76,374.30 L882.87,374.79 L882.98,375.28 L883.10,375.77 L883.21,376.25 L883.32,376.74 L883.43,377.23 L883.55,377.71 L883.66,378.20 L883.77,378.69 L883.88,379.18 L884.00,379.66 L884.11,380.15 L884.22,380.64 L884.33,381.12 L884.45,381.61 L884.56,382.10 L884.67,382.59 L884.78,383.07 L884.90,383.56 L885.01,384.05 L885.12,384.53 L885.23,385.02 L885.35,385.51 L885.46,386.00 L885.57,386.48 L885.68,386.97 L885.79,387.46 L885.91,387.95 L886.02,388.43 L886.13,388.92 L886.24,389.41 L886.35,389.89 L886.47,390.38 L886.58,390.87 L886.69,391.36 L886.80,391.84 L886.91,392.33 L887.02,392.82 L887.14,393.31 L887.25,393.79 L887.36,394.28 L887.47,394.77 L887.58,395.26 L887.69,395.74 L887.80,396.23 L887.91,396.72 L888.02,397.21 L888.13,397.69 L888.25,398.18 L888.36,398.67 L888.47,399.16 L888.58,399.64 L888.69,400.13 L888.80,400.62 L888.91,401.11 L889.01,401.60 L889.12,402.08 L889.23,402.57 L889.34,403.06 L889.45,403.55 L889.56,404.04 L889.67,404.52 L889.78,405.01 L889.89,405.50 L890.00,405.99 L890.11,406.48 L890.21,406.96 L890.32,407.45 L890.43,407.94 L890.54,408.43 L890.65,408.92 L890.76,409.40 L890.86,409.89 L890.97,410.38 L891.08,410.87 L891.19,411.36 L891.30,411.84 L891.41,412.33 L891.52,412.82 L891.63,413.31 L891.73,413.80 L891.84,414.28 L891.95,414.77 L892.06,415.26 L892.17,415.75 L892.28,416.24 L892.39,416.72 L892.50,417.21 L892.61,417.70 L892.73,418.19 L892.84,418.67 L892.95,419.16 L893.06,419.65 L893.17,420.14 L893.29,420.62 L893.40,421.11 L893.51,421.60 L893.63,422.08 L893.74,422.57 L893.85,423.06 L893.97,423.54 L894.08,424.03 L894.20,424.52 L894.32,425.00 L894.43,425.49 L894.55,425.98 L894.66,426.46 L894.78,426.95 L894.90,427.43 L895.02,427.92 L895.14,428.41 L895.25,428.89 L895.37,429.38 L895.49,429.86 L895.61,430.35 L895.73,430.83 L895.85,431.32 L895.97,431.80 L896.09,432.29 L896.21,432.78 L896.33,433.26 L896.45,433.75 L896.57,434.23 L896.69,434.72 L896.81,435.20 L896.93,435.69 L897.06,436.17 L897.18,436.66 L897.30,437.14 L897.42,437.63 L897.54,438.11 L897.66,438.60 L897.78,439.08 L897.90,439.57 L898.02,440.05 L898.14,440.54 L898.26,441.02 L898.38,441.51 L898.50,441.99 L898.62,442.48 L898.74,442.97 L898.86,443.45 L898.98,443.94 L899.10,444.42 L899.22,444.91 L899.33,445.39 L899.45,445.88 L899.57,446.37 L899.69,446.85 L899.81,447.34 L899.92,447.82 L900.04,448.31 L900.16,448.80 L900.27,449.28 L900.39,449.77 L900.51,450.25 L900.62,450.74 L900.74,451.23 L900.85,451.71 L900.97,452.20 L901.08,452.69 L901.20,453.17 L901.32,453.66 L901.43,454.15 L901.55,454.63 L901.66,455.12 L901.78,455.61 L901.89,456.09 L902.01,456.58 L902.12,457.07 L902.24,457.55 L902.35,458.04 L902.47,458.53 L902.58,459.01 L902.70,459.50 L902.81,459.99 L902.93,460.47 L903.04,460.96 L903.16,461.44 L903.27,461.93 L903.39,462.42 L903.51,462.90 L903.62,463.39 L903.74,463.88 L903.85,464.36 L903.97,464.85 L904.09,465.34 L904.20,465.82 L904.32,466.31 L904.44,466.79 L904.55,467.28 L904.67,467.77 L904.79,468.25 L904.90,468.74 L905.02,469.23 L905.14,469.71 L905.26,470.20 L905.37,470.68 L905.49,471.17 L905.61,471.66 L905.72,472.14 L905.84,472.63 L905.96,473.11 L906.08,473.60 L906.20,474.09 L906.31,474.57 L906.43,475.06 L906.55,475.54 L906.67,476.03 L906.78,476.51 L906.90,477.00 L907.02,477.49 L907.14,477.97 L907.26,478.46 L907.37,478.94 L907.49,479.43 L907.61,479.92 L907.73,480.40 L907.85,480.89 L907.96,481.37 L908.08,481.86 L908.20,482.35 L908.32,482.83 L908.44,483.32 L908.55,483.80 L908.67,484.29 L908.79,484.77 L908.91,485.26 L909.03,485.75 L909.14,486.23 L909.26,486.72 L909.38,487.20 L909.50,487.69 L909.62,488.18 L909.74,488.66 L909.85,489.15 L909.97,489.63 L910.09,490.12 L910.21,490.61 L910.32,491.09 L910.44,491.58 L910.56,492.06 L910.68,492.55 L910.80,493.03 L910.91,493.52 L911.03,494.01 L911.15,494.49 L911.27,494.98 L911.39,495.46 L911.50,495.95 L911.62,496.44 L911.74,496.92 L911.86,497.41 L911.97,497.89 L912.09,498.38 L912.21,498.87 L912.33,499.35 L912.45,499.84 L912.56,500.32 L912.68,500.81 L912.80,501.30 L912.92,501.78 L913.03,502.27 L913.15,502.75 L913.27,503.24 L913.39,503.72 L913.51,504.21 L913.62,504.70 L913.74,505.18 L913.86,505.67 L913.98,506.15 L914.10,506.64 L914.21,507.13 L914.33,507.61 L914.45,508.10 L914.57,508.58 L914.69,509.07 L914.81,509.55 L914.93,510.04 L915.04,510.53 L915.16,511.01 L915.28,511.50 L915.40,511.98 L915.52,512.47 L915.64,512.95 L915.76,513.44 L915.88,513.92 L916.00,514.41 L916.12,514.90 L916.24,515.38 L916.36,515.87 L916.49,516.35 L916.61,516.84 L916.73,517.32 L916.85,517.81 L916.97,518.29 L917.10,518.77 L917.22,519.26 L917.34,519.74 L917.46,520.23 L917.59,520.71 L917.71,521.20 L917.84,521.68 L917.96,522.17 L918.09,522.65 L918.21,523.13 L918.34,523.62 L918.46,524.10 L918.59,524.59 L918.72,525.07 L918.84,525.55 L918.97,526.04 L919.10,526.52 L919.23,527.00 L919.35,527.49 L919.48,527.97 L919.61,528.45 L919.74,528.94 L919.87,529.42 L920.00,529.90 L920.13,530.38 L920.26,530.87 L920.39,531.35 L920.53,531.83 L920.66,532.31 L920.79,532.80 L920.92,533.28 L921.05,533.76 L921.19,534.24 L921.32,534.72 L921.45,535.21 L921.59,535.69 L921.72,536.17 L921.85,536.65 L921.99,537.13 L922.12,537.62 L922.26,538.10 L922.39,538.58 L922.53,539.06 L922.66,539.54 L922.80,540.02 L922.93,540.50 L923.07,540.99 L923.20,541.47 L923.34,541.95 L923.47,542.43 L923.61,542.91 L923.74,543.39 L923.88,543.87 L924.01,544.36 L924.15,544.84 L924.28,545.32 L924.42,545.80 L924.55,546.28 L924.69,546.76 L924.82,547.24 L924.96,547.73 L925.09,548.21 L925.23,548.69 L925.36,549.17 L925.49,549.65 L925.63,550.13 L925.76,550.61 L925.90,551.10 L926.03,551.58 L926.17,552.06 L926.30,552.54 L926.44,553.02 L926.57,553.50 L926.71,553.98 L926.85,554.47 L926.98,554.95 L927.12,555.43 L927.25,555.91 L927.39,556.39 L927.52,556.87 L927.66,557.35 L927.80,557.83 L927.93,558.31 L928.07,558.80 L928.21,559.28 L928.35,559.76 L928.48,560.24 L928.62,560.72 L928.76,561.20 L928.90,561.68 L929.03,562.16 L929.17,562.64 L929.31,563.12 L929.45,563.60 L929.59,564.08 L929.73,564.56 L929.87,565.04 L930.01,565.52 L930.15,566.00 L930.29,566.48 L930.43,566.96 L930.57,567.44 L930.71,567.92 L930.85,568.40 L930.99,568.88 L931.13,569.36 L931.27,569.84 L931.41,570.32 L931.55,570.80 L931.69,571.28 L931.83,571.76 L931.97,572.24 L932.11,572.72 L932.24,573.20 L932.38,573.68 L932.52,574.16 L932.66,574.64 L932.80,575.13 L932.94,575.61 L933.07,576.09 L933.21,576.57 L933.35,577.05 L933.48,577.53 L933.62,578.01 L933.75,578.49 L933.89,578.97 L934.02,579.46 L934.16,579.94 L934.29,580.42 L934.42,580.90 L934.56,581.38 L934.69,581.86 L934.82,582.35 L934.96,582.83 L935.09,583.31 L935.22,583.79 L935.35,584.28 L935.48,584.76 L935.62,585.24 L935.75,585.72 L935.88,586.20 L936.01,586.69 L936.14,587.17 L936.27,587.65 L936.40,588.13 L936.53,588.62 L936.66,589.10 L936.80,589.58 L936.93,590.07 L937.06,590.55 L937.19,591.03 L937.32,591.51 L937.45,592.00 L937.58,592.48 L937.71,592.96 L937.85,593.44 L937.98,593.92 L938.11,594.41 L938.24,594.89 L938.37,595.37 L938.51,595.85 L938.64,596.34 L938.77,596.82 L938.90,597.30 L939.03,597.78 L939.17,598.26 L939.30,598.75 L939.43,599.23 L939.56,599.71 L939.70,600.19 L939.83,600.68 L939.96,601.16 L940.09,601.64 L940.23,602.12 L940.36,602.60 L940.49,603.09 L940.62,603.57 L940.75,604.05 L940.89,604.53 L941.02,605.02 L941.15,605.50 L941.28,605.98 L941.41,606.46 L941.54,606.95 L941.67,607.43 L941.81,607.91 L941.94,608.39 L942.07,608.88 L942.20,609.36 L942.33,609.84 L942.46,610.32 L942.59,610.81 L942.72,611.29 L942.85,611.77 L942.98,612.26 L943.10,612.74 L943.23,613.22 L943.36,613.70 L943.49,614.19 L943.62,614.67 L943.75,615.15 L943.88,615.64 L944.01,616.12 L944.14,616.60 L944.26,617.09 L944.39,617.57 L944.52,618.05 L944.65,618.54 L944.78,619.02 L944.91,619.50 L945.03,619.99 L945.16,620.47 L945.29,620.95 L945.42,621.44 L945.55,621.92 L945.68,622.40 L945.81,622.88 L945.94,623.37 L946.07,623.85 L946.20,624.33 L946.33,624.82 L946.46,625.30 L946.59,625.78 L946.72,626.26 L946.85,626.75 L946.98,627.23 L947.11,627.71 L947.24,628.19 L947.37,628.68 L947.51,629.16 L947.64,629.64 L947.77,630.12 L947.91,630.60 L948.04,631.09 L948.17,631.57 L948.31,632.05 L948.44,632.53 L948.58,633.01 L948.71,633.49 L948.85,633.97 L948.99,634.46 L949.12,634.94 L949.26,635.42 L949.40,635.90 L949.53,636.38 L949.67,636.86 L949.81,637.34 L949.95,637.82 L950.08,638.30 L950.22,638.78 L950.36,639.26 L950.50,639.74 L950.64,640.22 L950.78,640.70 L950.92,641.18 L951.06,641.66 L951.19,642.15 L951.33,642.63 L951.47,643.11 L951.61,643.59 L951.75,644.07 L951.89,644.55 L952.03,645.03 L952.17,645.51 L952.31,645.99 L952.45,646.47 L952.59,646.95 L952.73,647.43 L952.87,647.91 L953.01,648.39 L953.15,648.87 L953.29,649.35 L953.43,649.83 L953.57,650.31 L953.71,650.79 L953.85,651.27 L953.99,651.75 L954.13,652.23 L954.27,652.71 L954.40,653.19 L954.54,653.67 L954.68,654.15 L954.82,654.63 L954.96,655.11 L955.10,655.59 L955.23,656.07 L955.37,656.55 L955.51,657.03 L955.65,657.51 L955.79,657.99 L955.92,658.47 L956.06,658.95 L956.20,659.44 L956.34,659.92 L956.48,660.40 L956.61,660.88 L956.75,661.36 L956.89,661.84 L957.03,662.32 L957.17,662.80 L957.31,663.28 L957.45,663.76 L957.59,664.24 L957.73,664.72 L957.87,665.20 L958.01,665.68 L958.15,666.16 L958.29,666.64 L958.43,667.12 L958.57,667.60 L958.72,668.08 L958.86,668.56 L959.00,669.03 L959.15,669.51 L959.29,669.99 L959.43,670.47 L959.58,670.95 L959.72,671.43 L959.87,671.91 L960.02,672.38 L960.16,672.86 L960.31,673.34 L960.46,673.82 L960.60,674.30 L960.75,674.77 L960.90,675.25 L961.05,675.73 L961.20,676.20 L961.35,676.68 L961.50,677.16 L961.65,677.64 L961.80,678.11 L961.96,678.59 L962.11,679.06 L962.26,679.54 L962.41,680.02 L962.57,680.49 L962.72,680.97 L962.88,681.44 L963.03,681.92 L963.19,682.39 L963.35,682.87 L963.50,683.34 L963.66,683.82 L963.82,684.29 L963.97,684.77 L964.13,685.24 L964.29,685.71 L964.45,686.19 L964.61,686.66 L964.77,687.14 L964.93,687.61 L965.09,688.08 L965.26,688.56 L965.42,689.03 L965.58,689.50 L965.74,689.97 L965.91,690.45 L966.07,690.92 L966.23,691.39 L966.40,691.86 L966.56,692.34 L966.73,692.81 L966.89,693.28 L967.06,693.75 L967.22,694.22 L967.39,694.70 L967.56,695.17 L967.72,695.64 L967.89,696.11 L968.06,696.58 L968.23,697.05 L968.40,697.52 L968.57,697.99 L968.73,698.46 L968.90,698.93 L969.07,699.40 L969.24,699.87 L969.41,700.34 L969.58,700.81 L969.75,701.28 L969.93,701.75 L970.10,702.22 L970.27,702.69 L970.44,703.16 L970.61,703.63 L970.78,704.10 L970.96,704.57 L971.13,705.04 L971.30,705.51 L971.48,705.98 L971.65,706.45 L971.82,706.92 L972.00,707.38 L972.17,707.85 L972.35,708.32 L972.52,708.79 L972.70,709.26 L972.87,709.73 L973.05,710.19 L973.23,710.66 L973.40,711.13 L973.58,711.60 L973.76,712.06 L973.94,712.53 L974.12,713.00 L974.29,713.47 L974.47,713.93 L974.65,714.40 L974.83,714.87 L975.01,715.33 L975.19,715.80 L975.37,716.26 L975.56,716.73 L975.74,717.20 L975.92,717.66 L976.10,718.13 L976.28,718.59 L976.47,719.06 L976.65,719.52 L976.83,719.99 L977.02,720.45 L977.20,720.92 L977.39,721.38 L977.57,721.85 L977.76,722.31 L977.94,722.78 L978.13,723.24 L978.32,723.70 L978.50,724.17 L978.69,724.63 L978.88,725.10 L979.06,725.56 L979.25,726.02 L979.44,726.49 L979.62,726.95 L979.81,727.41 L980.00,727.88 L980.19,728.34 L980.37,728.80 L980.56,729.27 L980.75,729.73 L980.94,730.19 L981.13,730.66 L981.31,731.12 L981.50,731.58 L981.69,732.05 L981.88,732.51 L982.06,732.98 L982.25,733.44 L982.44,733.90 L982.62,734.37 L982.81,734.83 L982.99,735.29 L983.18,735.76 L983.37,736.22 L983.55,736.69 L983.74,737.15 L983.92,737.62 L984.11,738.08 L984.29,738.55 L984.48,739.01 L984.66,739.48 L984.84,739.94 L985.03,740.41 L985.21,740.87 L985.39,741.34 L985.57,741.80 L985.76,742.27 L985.94,742.73 L986.12,743.20 L986.30,743.67 L986.48,744.13 L986.66,744.60 L986.85,745.06 L987.03,745.53 L987.21,746.00 L987.39,746.46 L987.57,746.93 L987.75,747.39 L987.93,747.86 L988.11,748.33 L988.29,748.79 L988.47,749.26 L988.65,749.73 L988.83,750.19 L989.01,750.66 L989.19,751.13 L989.37,751.59 L989.55,752.06 L989.73,752.52 L989.91,752.99 L990.10,753.46 L990.28,753.92 L990.46,754.39 L990.64,754.85 L990.82,755.32 L991.00,755.79 L991.19,756.25 L991.37,756.72 L991.55,757.18 L991.73,757.65 L991.92,758.11 L992.10,758.58 L992.28,759.04 L992.47,759.51 L992.65,759.97 L992.83,760.44 L993.02,760.90 L993.20,761.37 L993.39,761.83 L993.57,762.30 L993.76,762.76 L993.94,763.23 L994.13,763.69 L994.31,764.15 L994.50,764.62 L994.68,765.08 L994.87,765.55 L995.06,766.01 L995.24,766.48 L995.43,766.94 L995.61,767.40 L995.80,767.87 L995.99,768.33 L996.17,768.80 L996.36,769.26 L996.55,769.72 L996.73,770.19 L996.92,770.65 L997.11,771.11 L997.29,771.58 L997.48,772.04 L997.67,772.51 L997.86,772.97 L998.04,773.43 L998.23,773.90 L998.42,774.36 L998.61,774.82 L998.79,775.29 L998.98,775.75 L999.17,776.21 L999.36,776.68 L999.55,777.14 L999.74,777.60 L999.92,778.07 L1000.11,778.53 L1000.30,778.99 L1000.49,779.45 L1000.68,779.92 L1000.87,780.38 L1001.06,780.84 L1001.25,781.30 L1001.44,781.77 L1001.63,782.23 L1001.82,782.69 L1002.01,783.15 L1002.20,783.62 L1002.39,784.08 L1002.58,784.54 L1002.78,785.00 L1002.97,785.46 L1003.16,785.93 L1003.35,786.39 L1003.54,786.85 L1003.74,787.31 L1003.93,787.77 L1004.12,788.23 L1004.32,788.69 L1004.51,789.15 L1004.70,789.62 L1004.90,790.08 L1005.09,790.54 L1005.29,791.00 L1005.48,791.46 L1005.68,791.92 L1005.87,792.38 L1006.07,792.84 L1006.27,793.30 L1006.46,793.76 L1006.66,794.22 L1006.86,794.68 L1007.05,795.14 L1007.25,795.60 L1007.45,796.05 L1007.65,796.51 L1007.85,796.97 L1008.05,797.43 L1008.25,797.89 L1008.44,798.35 L1008.64,798.81 L1008.84,799.26 L1009.05,799.72 L1009.25,800.18 L1009.45,800.64 L1009.65,801.10 L1009.85,801.55 L1010.05,802.01 L1010.26,802.47 L1010.46,802.92 L1010.66,803.38 L1010.87,803.84 L1011.07,804.29 L1011.28,804.75 L1011.49,805.20 L1011.69,805.66 L1011.90,806.11 L1012.11,806.57 L1012.32,807.02 L1012.52,807.48 L1012.73,807.93 L1012.94,808.39 L1013.15,808.84 L1013.36,809.29 L1013.57,809.75 L1013.79,810.20 L1014.00,810.65 L1014.21,811.10 L1014.42,811.56 L1014.64,812.01 L1014.85,812.46 L1015.07,812.91 L1015.28,813.36 L1015.50,813.81 L1015.72,814.26 L1015.94,814.71 L1016.16,815.16 L1016.38,815.61 L1016.60,816.06 L1016.83,816.51 L1017.05,816.95 L1017.28,817.40 L1017.50,817.84 L1017.73,818.29 L1017.96,818.73 L1018.19,819.18 L1018.42,819.62 L1018.66,820.06 L1018.90,820.50 L1019.14,820.94 L1019.38,821.38 L1019.63,821.81 L1019.88,822.24 L1020.14,822.67 L1020.41,823.09 L1020.70,823.50 L1021.00,823.90 L1021.32,824.28 L1021.66,824.65 L1022.02,824.99 L1022.41,825.31 L1022.83,825.58 L1023.27,825.81 L1023.74,825.99 L1024.22,826.11 L1024.72,826.17 L1025.22,826.16 L1025.71,826.09 L1026.20,825.97 L1026.67,825.79 L1027.12,825.58 L1027.55,825.32 L1027.96,825.04 L1028.35,824.72 L1028.72,824.39 L1029.08,824.04 L1029.42,823.68 L1029.75,823.31 L1030.08,822.92 L1030.39,822.54 L1030.70,822.14 L1031.00,821.74 L1031.30,821.34 L1031.59,820.93 L1031.88,820.52 L1032.16,820.11 L1032.44,819.70 L1032.71,819.28 L1032.99,818.86 L1033.25,818.44 L1033.52,818.02 L1033.78,817.59 L1034.04,817.16 L1034.30,816.73 L1034.55,816.30 L1034.80,815.87 L1035.05,815.43 L1035.29,815.00 L1035.54,814.56 L1035.78,814.12 L1036.02,813.69 L1036.26,813.25 L1036.49,812.80 L1036.73,812.36 L1036.96,811.92 L1037.19,811.47 L1037.42,811.03 L1037.64,810.58 L1037.87,810.14 L1038.09,809.69 L1038.31,809.24 L1038.53,808.79 L1038.75,808.34 L1038.97,807.89 L1039.18,807.44 L1039.40,806.99 L1039.61,806.54 L1039.82,806.09 L1040.03,805.63 L1040.24,805.18 L1040.45,804.72 L1040.65,804.27 L1040.86,803.81 L1041.06,803.35 L1041.26,802.90 L1041.46,802.44 L1041.66,801.98 L1041.86,801.52 L1042.06,801.06 L1042.26,800.60 L1042.45,800.14 L1042.65,799.68 L1042.84,799.22 L1043.03,798.76 L1043.22,798.30 L1043.42,797.83 L1043.61,797.37 L1043.80,796.91 L1043.99,796.45 L1044.18,795.99 L1044.37,795.52 L1044.56,795.06 L1044.75,794.60 L1044.94,794.14 L1045.13,793.67 L1045.32,793.21 L1045.51,792.75 L1045.70,792.29 L1045.89,791.82 L1046.08,791.36 L1046.27,790.90 L1046.46,790.44 L1046.65,789.97 L1046.84,789.51 L1047.03,789.05 L1047.22,788.58 L1047.41,788.12 L1047.60,787.66 L1047.79,787.20 L1047.98,786.73 L1048.17,786.27 L1048.36,785.81 L1048.55,785.35 L1048.74,784.89 L1048.93,784.42 L1049.12,783.96 L1049.31,783.50 L1049.50,783.04 L1049.70,782.58 L1049.89,782.12 L1050.08,781.65 L1050.27,781.19 L1050.47,780.73 L1050.66,780.27 L1050.86,779.81 L1051.05,779.35 L1051.24,778.89 L1051.44,778.43 L1051.64,777.97 L1051.83,777.51 L1052.03,777.05 L1052.23,776.59 L1052.42,776.13 L1052.62,775.67 L1052.82,775.21 L1053.02,774.75 L1053.22,774.30 L1053.42,773.84 L1053.62,773.38 L1053.83,772.92 L1054.03,772.47 L1054.24,772.01 L1054.44,771.56 L1054.65,771.10 L1054.86,770.65 L1055.06,770.19 L1055.27,769.74 L1055.49,769.28 L1055.70,768.83 L1055.91,768.38 L1056.12,767.93 L1056.34,767.47 L1056.55,767.02 L1056.77,766.57 L1056.98,766.12 L1057.20,765.67 L1057.42,765.22 L1057.64,764.77 L1057.85,764.32 L1058.07,763.87 L1058.29,763.42 L1058.51,762.97 L1058.74,762.52 L1058.96,762.08 L1059.18,761.63 L1059.40,761.18 L1059.63,760.73 L1059.85,760.29 L1060.08,759.84 L1060.30,759.40 L1060.53,758.95 L1060.76,758.50 L1060.99,758.06 L1061.21,757.61 L1061.44,757.17 L1061.67,756.73 L1061.91,756.28 L1062.14,755.84 L1062.37,755.40 L1062.60,754.96 L1062.84,754.51 L1063.07,754.07 L1063.31,753.63 L1063.55,753.19 L1063.78,752.75 L1064.02,752.31 L1064.26,751.87 L1064.50,751.43 L1064.74,751.00 L1064.98,750.56 L1065.22,750.12 L1065.47,749.68 L1065.71,749.25 L1065.95,748.81 L1066.20,748.37 L1066.44,747.94 L1066.69,747.50 L1066.93,747.07 L1067.18,746.63 L1067.43,746.20 L1067.67,745.76 L1067.92,745.33 L1068.17,744.89 L1068.42,744.46 L1068.67,744.03 L1068.92,743.59 L1069.17,743.16 L1069.42,742.73 L1069.67,742.29 L1069.92,741.86 L1070.17,741.43 L1070.42,741.00 L1070.68,740.57 L1070.93,740.14 L1071.18,739.71 L1071.44,739.27 L1071.69,738.84 L1071.95,738.41 L1072.20,737.98 L1072.46,737.56 L1072.72,737.13 L1072.97,736.70 L1073.23,736.27 L1073.49,735.84 L1073.75,735.42 L1074.01,734.99 L1074.27,734.56 L1074.54,734.14 L1074.80,733.71 L1075.06,733.29 L1075.33,732.86 L1075.59,732.44 L1075.86,732.02 L1076.13,731.59 L1076.40,731.17 L1076.67,730.75 L1076.94,730.33 L1077.21,729.91 L1077.49,729.50 L1077.76,729.08 L1078.04,728.66 L1078.32,728.25 L1078.59,727.83 L1078.87,727.42 L1079.15,727.00 L1079.44,726.59 L1079.72,726.18 L1080.00,725.76 L1080.29,725.35 L1080.57,724.94 L1080.86,724.53 L1081.15,724.13 L1081.44,723.72 L1081.73,723.31 L1082.02,722.90 L1082.31,722.50 L1082.60,722.09 L1082.89,721.69 L1083.19,721.28 L1083.48,720.88 L1083.78,720.47 L1084.07,720.07 L1084.37,719.67 L1084.66,719.26 L1084.96,718.86 L1085.26,718.46 L1085.56,718.06 L1085.85,717.66 L1086.15,717.25 L1086.45,716.85 L1086.75,716.45 L1087.05,716.05 L1087.35,715.65 L1087.65,715.25 L1087.95,714.85 L1088.25,714.45 L1088.55,714.05 L1088.85,713.65 L1089.15,713.26 L1089.46,712.86 L1089.76,712.46 L1090.06,712.06 L1090.36,711.66 L1090.66,711.26 L1090.96,710.86 L1091.26,710.46 L1091.57,710.06 L1091.87,709.67 L1092.17,709.27 L1092.47,708.87 L1092.77,708.47 L1093.08,708.07 L1093.38,707.67 L1093.68,707.27 L1093.98,706.88 L1094.28,706.48 L1094.59,706.08 L1094.89,705.68 L1095.19,705.28 L1095.49,704.88 L1095.80,704.49 L1096.10,704.09 L1096.40,703.69 L1096.70,703.29 L1097.01,702.89 L1097.31,702.50 L1097.61,702.10 L1097.91,701.70 L1098.22,701.30 L1098.52,700.91 L1098.82,700.51 L1099.13,700.11 L1099.43,699.71 L1099.74,699.32 L1100.04,698.92 L1100.35,698.52 L1100.65,698.13 L1100.96,697.73 L1101.26,697.34 L1101.57,696.94 L1101.87,696.55 L1102.18,696.15 L1102.49,695.76 L1102.80,695.36 L1103.10,694.97 L1103.41,694.57 L1103.72,694.18 L1104.03,693.79 L1104.33,693.39 L1104.64,693.00 L1104.95,692.60 L1105.26,692.21 L1105.56,691.82 L1105.87,691.42 L1106.18,691.03 L1106.49,690.63 L1106.80,690.24 L1107.10,689.85 L1107.41,689.45 L1107.72,689.06 L1108.03,688.66 L1108.34,688.27 L1108.64,687.88 L1108.95,687.48 L1109.26,687.09 L1109.57,686.69 L1109.87,686.30 L1110.18,685.90 L1110.49,685.51 L1110.80,685.12 L1111.10,684.72 L1111.41,684.33 L1111.72,683.93 L1112.02,683.54 L1112.33,683.14 L1112.64,682.75 L1112.95,682.36 L1113.26,681.96 L1113.56,681.57 L1113.87,681.17 L1114.18,680.78 L1114.49,680.39 L1114.80,680.00 L1115.11,679.60 L1115.42,679.21 L1115.73,678.82 L1116.04,678.43 L1116.35,678.04 L1116.67,677.65 L1116.98,677.26 L1117.29,676.87 L1117.61,676.48 L1117.92,676.09 L1118.24,675.70 L1118.55,675.31 L1118.87,674.93 L1119.19,674.54 L1119.50,674.16 L1119.82,673.77 L1120.14,673.39 L1120.46,673.00 L1120.79,672.62 L1121.11,672.24 L1121.43,671.86 L1121.76,671.48 L1122.08,671.10 L1122.41,670.72 L1122.74,670.34 L1123.06,669.96 L1123.39,669.59 L1123.72,669.21 L1124.05,668.83 L1124.38,668.46 L1124.72,668.09 L1125.05,667.71 L1125.38,667.34 L1125.72,666.97 L1126.05,666.60 L1126.39,666.23 L1126.73,665.86 L1127.07,665.49 L1127.41,665.13 L1127.74,664.76 L1128.08,664.39 L1128.43,664.03 L1128.77,663.66 L1129.11,663.30 L1129.45,662.93 L1129.79,662.57 L1130.14,662.20 L1130.48,661.84 L1130.83,661.48 L1131.17,661.12 L1131.52,660.76 L1131.86,660.39 L1132.21,660.03 L1132.56,659.67 L1132.90,659.31 L1133.25,658.95 L1133.60,658.59 L1133.95,658.23 L1134.29,657.88 L1134.64,657.52 L1134.99,657.16 L1135.34,656.80 L1135.69,656.44 L1136.04,656.09 L1136.39,655.73 L1136.74,655.37 L1137.09,655.01 L1137.44,654.66 L1137.79,654.30 L1138.14,653.95 L1138.49,653.59 L1138.84,653.23 L1139.20,652.88 L1139.55,652.52 L1139.90,652.17 L1140.25,651.81 L1140.60,651.46 L1140.96,651.11 L1141.31,650.75 L1141.66,650.40 L1142.02,650.05 L1142.37,649.69 L1142.73,649.34 L1143.08,648.99 L1143.44,648.64 L1143.79,648.28 L1144.15,647.93 L1144.50,647.58 L1144.86,647.23 L1145.22,646.88 L1145.57,646.53 L1145.93,646.18 L1146.29,645.83 L1146.65,645.48 L1147.00,645.13 L1147.36,644.78 L1147.72,644.44 L1148.08,644.09 L1148.44,643.74 L1148.80,643.39 L1149.16,643.04 L1149.52,642.70 L1149.88,642.35 L1150.24,642.00 L1150.60,641.65 L1150.96,641.31 L1151.32,640.96 L1151.68,640.61 L1152.04,640.27 L1152.40,639.92 L1152.76,639.57 L1153.12,639.23 L1153.48,638.88 L1153.84,638.53 L1154.20,638.19 L1154.56,637.84 L1154.92,637.49 L1155.28,637.15 L1155.64,636.80 L1156.00,636.45 L1156.36,636.11 L1156.72,635.76 L1157.08,635.41 L1157.44,635.06 L1157.80,634.72 L1158.16,634.37 L1158.52,634.02 L1158.88,633.67 L1159.23,633.32 L1159.59,632.98 L1159.95,632.63 L1160.31,632.28 L1160.67,631.93 L1161.02,631.58 L1161.38,631.23 L1161.74,630.88 L1162.10,630.53 L1162.45,630.18 L1162.81,629.83 L1163.17,629.48 L1163.52,629.13 L1163.88,628.78 L1164.24,628.43 L1164.59,628.08 L1164.95,627.72 L1165.30,627.37 L1165.66,627.02 L1166.02,626.67 L1166.37,626.32 L1166.73,625.97 L1167.08,625.62 L1167.44,625.27 L1167.79,624.91 L1168.15,624.56 L1168.51,624.21 L1168.86,623.86 L1169.22,623.51 L1169.58,623.16 L1169.93,622.81 L1170.29,622.46 L1170.65,622.11 L1171.01,621.76 L1171.37,621.42 L1171.73,621.07 L1172.08,620.72 L1172.44,620.37 L1172.81,620.03 L1173.17,619.68 L1173.53,619.34 L1173.89,618.99 L1174.26,618.65 L1174.62,618.31 L1174.98,617.97 L1175.35,617.62 L1175.72,617.29 L1176.09,616.95 L1176.46,616.61 L1176.83,616.27 L1177.20,615.94 L1177.57,615.61 L1177.94,615.27 L1178.32,614.94 L1178.70,614.62 L1179.07,614.29 L1179.45,613.96 L1179.83,613.64 L1180.22,613.32 L1180.60,613.00 L1180.99,612.68 L1181.37,612.36 L1181.76,612.04 L1182.15,611.73 L1182.54,611.42 L1182.93,611.11 L1183.33,610.80 L1183.72,610.50 L1184.12,610.19 L1184.52,609.89 L1184.92,609.60 L1185.33,609.30 L1185.73,609.01 L1186.14,608.72 L1186.55,608.43 L1186.96,608.15 L1187.38,607.87 L1187.79,607.59 L1188.21,607.32 L1188.63,607.05 L1189.05,606.78 L1189.48,606.52 L1189.90,606.26 L1190.33,606.00 L1190.76,605.74 L1191.20,605.49 L1191.63,605.25 L1192.07,605.00 L1192.51,604.76 L1192.94,604.52 L1193.39,604.29 L1193.83,604.05 L1194.27,603.82 L1194.72,603.59 L1195.16,603.37 L1195.61,603.15 L1196.06,602.92 L1196.51,602.71 L1196.96,602.49 L1197.41,602.28 L1197.87,602.07 L1198.32,601.86 L1198.78,601.65 L1199.23,601.45 L1199.69,601.25 L1200.15,601.06 L1200.61,600.87 L1201.08,600.68 L1201.54,600.49 L1202.01,600.31 L1202.47,600.13 L1202.94,599.95 L1203.41,599.78 L1203.88,599.61 L1204.35,599.44 L1204.82,599.28 L1205.30,599.11 L1205.77,598.95 L1206.24,598.79 L1206.72,598.63 L1207.19,598.48 L1207.67,598.32 L1208.14,598.17 L1208.62,598.02 L1209.10,597.87 L1209.58,597.72 L1210.05,597.57 L1210.53,597.43 L1211.01,597.28 L1211.49,597.13 L1211.97,596.99 L1212.44,596.85 L1212.92,596.70 L1213.40,596.56 L1213.88,596.42 L1214.36,596.27 L1214.84,596.13 L1215.32,595.99 L1215.80,595.85 L1216.28,595.70 L1216.76,595.56 L1217.24,595.41 L1217.71,595.27 L1218.19,595.12 L1218.67,594.98 L1219.15,594.83 L1219.63,594.69 L1219.83,594.62" fill="none" stroke="#ff0000" stroke-width="2.8" stroke-linejoin="round" stroke-linecap="butt"/>
<path d="M1341.60,319.20 L1343.10,319.22 L1344.60,319.25 L1346.10,319.27 L1347.60,319.29 L1349.10,319.32 L1350.60,319.34 L1352.10,319.36 L1353.60,319.39 L1355.10,319.41 L1356.60,319.43 L1358.10,319.46 L1359.60,319.48 L1361.10,319.50 L1362.60,319.53 L1364.10,319.55 L1365.60,319.58 L1367.10,319.60 L1368.60,319.63 L1370.10,319.65 L1371.60,319.68 L1373.10,319.71 L1374.60,319.74 L1376.10,319.76 L1377.60,319.79 L1379.09,319.82 L1380.59,319.85 L1382.09,319.87 L1383.59,319.90 L1385.09,319.92 L1386.59,319.94 L1388.09,319.97 L1389.59,320.00 L1391.09,320.04 L1392.59,320.09 L1394.09,320.14 L1395.59,320.20 L1397.09,320.27 L1398.59,320.36 L1400.08,320.44 L1401.58,320.54 L1403.08,320.64 L1404.57,320.75 L1406.07,320.86 L1407.56,320.98 L1409.06,321.10 L1410.55,321.23 L1412.05,321.36 L1413.54,321.50 L1415.03,321.64 L1416.53,321.78 L1418.02,321.93 L1419.51,322.08 L1421.00,322.25 L1422.49,322.41 L1423.98,322.58 L1425.47,322.76 L1426.96,322.94 L1428.45,323.13 L1429.94,323.33 L1431.42,323.53 L1432.91,323.74 L1434.39,323.95 L1435.88,324.17 L1437.36,324.39 L1438.84,324.62 L1440.32,324.86 L1441.80,325.10 L1443.28,325.36 L1444.76,325.62 L1446.23,325.90 L1447.70,326.18 L1449.17,326.49 L1450.64,326.81 L1452.10,327.15 L1453.55,327.51 L1455.00,327.90 L1456.44,328.31 L1457.88,328.74 L1459.31,329.18 L1460.74,329.64 L1462.17,330.10 L1463.59,330.57 L1465.02,331.04 L1466.44,331.50 L1467.87,331.97 L1469.29,332.44 L1470.72,332.92 L1472.14,333.40 L1473.56,333.88 L1474.97,334.38 L1476.38,334.88 L1477.79,335.40 L1479.20,335.93 L1480.60,336.47 L1481.99,337.02 L1483.38,337.58 L1484.76,338.16 L1486.14,338.75 L1487.52,339.34 L1488.90,339.93 L1490.28,340.53 L1491.66,341.12 L1493.04,341.70 L1494.42,342.28 L1495.81,342.85 L1497.20,343.42 L1498.59,343.98 L1499.98,344.53 L1501.38,345.06 L1502.79,345.58 L1504.21,346.05 L1505.64,346.47 L1507.09,346.82 L1508.55,347.07 L1510.03,347.23 L1511.51,347.28 L1512.99,347.22 L1514.46,347.05 L1515.91,346.75 L1517.32,346.33 L1518.71,345.81 L1520.08,345.22 L1521.44,344.61 L1522.81,344.00 L1524.20,343.45 L1525.60,342.96 L1527.03,342.55 L1528.48,342.24 L1529.94,342.05 L1531.40,342.00 L1532.84,342.12 L1534.24,342.44 L1535.59,342.96 L1536.88,343.64 L1538.11,344.46 L1539.28,345.36 L1540.42,346.32 L1541.53,347.33 L1542.59,348.38 L1543.62,349.47 L1544.60,350.60 L1545.55,351.76 L1546.46,352.94 L1547.36,354.15 L1548.23,355.37 L1549.10,356.59 L1549.96,357.82 L1550.81,359.05 L1551.66,360.29 L1552.50,361.53 L1553.34,362.77 L1554.18,364.02 L1555.01,365.27 L1555.84,366.51 L1556.68,367.76 L1557.51,369.01 L1558.34,370.26 L1559.17,371.51 L1560.00,372.76 L1560.83,374.00 L1561.67,375.25 L1562.50,376.50 L1563.35,377.74 L1564.19,378.98 L1565.04,380.21 L1565.90,381.44 L1566.76,382.67 L1567.62,383.90 L1568.50,385.12 L1569.38,386.33 L1570.28,387.53 L1571.19,388.72 L1572.11,389.90 L1573.04,391.08 L1573.98,392.25 L1574.93,393.41 L1575.87,394.58 L1576.82,395.74 L1577.76,396.91 L1578.68,398.09 L1579.59,399.28 L1580.48,400.49 L1581.37,401.70 L1582.25,402.91 L1583.14,404.12 L1584.06,405.30 L1585.00,406.46 L1585.98,407.60 L1586.98,408.72 L1588.00,409.81 L1589.03,410.90 L1590.08,411.97 L1591.14,413.04 L1592.20,414.10 L1593.27,415.15 L1594.34,416.20 L1595.41,417.24 L1596.49,418.29 L1597.58,419.32 L1598.67,420.35 L1599.76,421.38 L1600.86,422.40 L1601.97,423.41 L1603.09,424.41 L1604.21,425.40 L1605.35,426.37 L1606.51,427.33 L1607.67,428.27 L1608.86,429.19 L1610.05,430.10 L1611.26,430.99 L1612.47,431.87 L1613.70,432.74 L1614.92,433.60 L1616.14,434.47 L1617.36,435.34 L1618.58,436.22 L1619.79,437.10 L1621.00,437.99 L1622.21,438.87 L1623.43,439.75 L1624.66,440.61 L1625.90,441.44 L1627.17,442.23 L1628.47,442.93 L1629.82,443.52 L1631.21,443.98 L1632.64,444.30 L1634.10,444.51 L1635.59,444.64 L1637.08,444.72 L1638.57,444.73 L1640.06,444.66 L1641.53,444.51 L1643.00,444.27 L1644.45,443.93 L1645.87,443.50 L1647.27,442.99 L1648.64,442.40 L1649.99,441.75 L1651.31,441.05 L1652.62,440.32 L1653.91,439.56 L1655.19,438.78 L1656.47,437.99 L1657.73,437.18 L1658.99,436.36 L1660.24,435.53 L1661.48,434.69 L1662.71,433.84 L1663.94,432.98 L1665.16,432.10 L1666.37,431.21 L1667.57,430.31 L1668.76,429.40 L1669.94,428.48 L1671.11,427.54 L1672.27,426.59 L1673.43,425.64 L1674.58,424.67 L1675.72,423.70 L1676.85,422.71 L1677.97,421.72 L1679.09,420.72 L1680.20,419.71 L1681.30,418.70 L1682.40,417.67 L1683.48,416.64 L1684.56,415.59 L1685.63,414.54 L1686.69,413.48 L1687.73,412.40 L1688.77,411.32 L1689.79,410.22 L1690.81,409.12 L1691.83,408.02 L1692.84,406.91 L1693.85,405.80 L1694.86,404.70 L1695.88,403.59 L1696.89,402.49 L1697.91,401.39 L1698.94,400.29 L1699.97,399.21 L1701.01,398.13 L1702.06,397.05 L1703.11,395.99 L1704.17,394.92 L1705.24,393.87 L1706.31,392.82 L1707.38,391.77 L1708.46,390.72 L1709.54,389.68 L1710.61,388.64 L1711.69,387.59 L1712.77,386.55 L1713.85,385.51 L1714.92,384.46 L1716.00,383.42 L1717.07,382.37 L1718.14,381.32 L1719.21,380.27 L1720.28,379.22 L1721.35,378.16 L1722.42,377.11 L1723.49,376.06 L1724.56,375.00 L1725.62,373.95 L1726.69,372.90 L1727.76,371.84 L1728.82,370.79 L1729.89,369.73 L1730.95,368.67 L1732.02,367.62 L1733.09,366.56 L1734.15,365.51 L1735.22,364.45 L1736.28,363.40 L1737.35,362.34 L1738.42,361.29 L1739.48,360.23 L1740.55,359.18 L1741.62,358.12 L1742.68,357.07 L1743.75,356.02 L1744.82,354.96 L1745.89,353.91 L1746.95,352.85 L1748.02,351.80 L1749.09,350.75 L1750.16,349.70 L1751.23,348.64 L1752.30,347.59 L1753.37,346.54 L1754.44,345.49 L1755.51,344.44 L1756.58,343.39 L1757.65,342.34 L1758.72,341.29 L1759.79,340.24 L1760.87,339.19 L1761.94,338.14 L1763.01,337.10 L1764.09,336.05 L1765.16,335.00 L1766.24,333.96 L1767.31,332.91 L1768.39,331.87 L1769.47,330.82 L1770.54,329.78 L1771.62,328.74 L1772.70,327.69 L1773.78,326.65 L1774.86,325.61 L1775.94,324.57 L1777.02,323.52 L1778.09,322.48 L1779.17,321.44 L1780.25,320.40 L1781.33,319.36 L1782.41,318.32 L1783.49,317.28 L1784.57,316.24 L1785.66,315.20 L1786.74,314.16 L1787.82,313.12 L1788.90,312.07 L1789.98,311.03 L1791.06,309.99 L1792.14,308.95 L1793.22,307.91 L1794.30,306.87 L1795.38,305.83 L1796.46,304.79 L1797.54,303.75 L1798.62,302.71 L1799.69,301.66 L1800.77,300.62 L1801.85,299.58 L1802.93,298.54 L1804.01,297.49 L1805.09,296.45 L1806.16,295.41 L1807.24,294.36 L1808.32,293.32 L1809.39,292.27 L1810.47,291.23 L1811.54,290.18 L1812.62,289.14 L1813.69,288.09 L1814.77,287.04 L1815.84,285.99 L1816.91,284.95 L1817.99,283.90 L1819.06,282.85 L1820.13,281.80 L1821.20,280.75 L1822.27,279.69 L1823.34,278.64 L1824.41,277.59 L1825.47,276.53 L1826.54,275.48 L1827.60,274.42 L1828.67,273.37 L1829.73,272.31 L1830.80,271.25 L1831.86,270.19 L1832.92,269.13 L1833.98,268.07 L1835.04,267.01 L1836.11,265.95 L1837.17,264.89 L1838.23,263.83 L1839.28,262.77 L1840.34,261.71 L1841.40,260.64 L1842.46,259.58 L1843.52,258.52 L1844.58,257.45 L1845.63,256.39 L1846.69,255.33 L1847.75,254.26 L1848.80,253.20 L1849.86,252.13 L1850.92,251.07 L1851.97,250.00 L1853.03,248.93 L1854.08,247.87 L1855.14,246.80 L1856.19,245.74 L1857.25,244.67 L1858.30,243.60 L1859.35,242.53 L1860.41,241.47 L1861.46,240.40 L1862.52,239.33 L1863.57,238.27 L1864.62,237.20 L1865.68,236.13 L1866.73,235.06 L1867.78,233.99 L1868.84,232.93 L1869.89,231.86 L1870.94,230.79 L1872.00,229.72 L1873.05,228.65 L1874.10,227.59 L1875.16,226.52 L1876.21,225.45 L1877.26,224.39 L1878.31,223.33 L1879.34,222.28 L1880.36,221.25 L1881.37,220.24 L1881.70,219.90" fill="none" stroke="#ff0000" stroke-width="2.8" stroke-linejoin="round" stroke-linecap="butt"/>
<path d="M1341.50,643.90 C1345.42,647.70 1359.25,661.12 1365.00,666.70 C1370.75,672.28 1372.10,673.52 1376.00,677.40 C1379.90,681.28 1382.37,684.20 1388.40,690.00 C1394.43,695.80 1405.27,705.53 1412.20,712.20 C1419.13,718.87 1425.07,724.80 1430.00,730.00 C1434.93,735.20 1438.35,738.95 1441.80,743.40 C1445.25,747.85 1448.23,752.25 1450.70,756.70 C1453.17,761.15 1454.62,764.42 1456.60,770.10 C1458.58,775.78 1460.77,784.15 1462.60,790.80 C1464.43,797.45 1466.00,808.90 1467.60,810.00 C1469.20,811.10 1470.75,804.68 1472.20,797.40 C1473.65,790.12 1475.00,776.92 1476.30,766.30 C1477.60,755.68 1478.77,744.32 1480.00,733.70 C1481.23,723.08 1482.58,710.00 1483.70,702.60 C1484.82,695.20 1485.83,692.07 1486.70,689.30 C1487.57,686.53 1488.03,685.52 1488.90,686.00 C1489.77,686.48 1490.78,687.47 1491.90,692.20 C1493.02,696.93 1494.37,708.47 1495.60,714.40 C1496.83,720.33 1497.92,722.47 1499.30,727.80 C1500.68,733.13 1501.90,740.98 1503.90,746.40 C1505.90,751.82 1508.52,755.82 1511.30,760.30 C1514.08,764.78 1517.20,769.13 1520.60,773.30 C1524.00,777.47 1528.47,781.90 1531.70,785.30 C1534.93,788.70 1537.07,790.60 1540.00,793.70 C1542.93,796.80 1545.90,800.03 1549.30,803.90 C1552.70,807.77 1556.55,812.27 1560.40,816.90 C1564.25,821.53 1568.85,826.63 1572.40,831.70 C1575.95,836.77 1578.60,842.05 1581.70,847.30 C1584.80,852.55 1588.37,858.82 1591.00,863.20 C1593.63,867.58 1595.68,871.13 1597.50,873.60 C1599.32,876.07 1600.37,877.72 1601.90,878.00 C1603.43,878.28 1604.67,877.62 1606.70,875.30 C1608.73,872.98 1611.32,868.73 1614.10,864.10 C1616.88,859.47 1620.30,852.43 1623.40,847.50 C1626.50,842.57 1629.62,838.68 1632.70,834.50 C1635.78,830.32 1638.82,826.27 1641.90,822.40 C1644.98,818.53 1648.18,814.85 1651.20,811.30 C1654.22,807.75 1652.60,809.27 1660.00,801.10 C1667.40,792.93 1681.32,776.18 1695.60,762.30 C1709.88,748.42 1737.35,725.22 1745.70,717.80" fill="none" stroke="#ff0000" stroke-width="3" stroke-linejoin="round"/>
<path d="M1341.30,845.70 C1343.22,844.97 1348.40,843.15 1352.80,841.30 C1357.20,839.45 1362.75,837.32 1367.70,834.60 C1372.65,831.88 1377.57,828.47 1382.50,825.00 C1387.43,821.53 1392.35,818.02 1397.30,813.80 C1402.25,809.58 1407.25,804.77 1412.20,799.70 C1417.15,794.63 1422.07,789.08 1427.00,783.40 C1431.93,777.72 1437.85,770.53 1441.80,765.60 C1445.75,760.67 1447.73,758.25 1450.70,753.80 C1453.67,749.35 1456.88,744.10 1459.60,738.90 C1462.32,733.70 1465.02,728.28 1467.00,722.60 C1468.98,716.92 1470.35,711.07 1471.50,704.80 C1472.65,698.53 1473.13,693.30 1473.90,685.00 C1474.67,676.70 1475.45,662.33 1476.10,655.00 C1476.75,647.67 1477.23,643.97 1477.80,641.00 C1478.37,638.03 1478.93,637.12 1479.50,637.20 C1480.07,637.28 1480.65,638.87 1481.20,641.50 C1481.75,644.13 1482.28,647.75 1482.80,653.00 C1483.32,658.25 1483.78,665.83 1484.30,673.00 C1484.82,680.17 1485.28,689.83 1485.90,696.00 C1486.52,702.17 1487.30,706.33 1488.00,710.00 C1488.70,713.67 1489.10,715.00 1490.10,718.00 C1491.10,721.00 1492.62,725.05 1494.00,728.00 C1495.38,730.95 1496.75,732.70 1498.40,735.70 C1500.05,738.70 1501.75,742.12 1503.90,746.00 C1506.05,749.88 1508.52,754.45 1511.30,759.00 C1514.08,763.55 1517.20,768.92 1520.60,773.30 C1524.00,777.68 1528.47,781.90 1531.70,785.30 C1534.93,788.70 1537.07,790.60 1540.00,793.70 C1542.93,796.80 1545.90,800.03 1549.30,803.90 C1552.70,807.77 1556.55,812.27 1560.40,816.90 C1564.25,821.53 1568.85,826.63 1572.40,831.70 C1575.95,836.77 1578.60,842.05 1581.70,847.30 C1584.80,852.55 1588.37,858.82 1591.00,863.20 C1593.63,867.58 1595.68,871.13 1597.50,873.60 C1599.32,876.07 1600.37,877.72 1601.90,878.00 C1603.43,878.28 1604.67,877.62 1606.70,875.30 C1608.73,872.98 1611.32,868.73 1614.10,864.10 C1616.88,859.47 1620.30,852.43 1623.40,847.50 C1626.50,842.57 1629.62,838.68 1632.70,834.50 C1635.78,830.32 1638.82,826.27 1641.90,822.40 C1644.98,818.53 1648.18,814.85 1651.20,811.30 C1654.22,807.75 1652.60,809.27 1660.00,801.10 C1667.40,792.93 1681.32,776.18 1695.60,762.30 C1709.88,748.42 1737.35,725.22 1745.70,717.80" fill="none" stroke="#a874a5" stroke-width="1.1"/>
<path d="M1341.30,735.20 C1345.70,735.38 1359.60,735.80 1367.70,736.30 C1375.80,736.80 1382.48,737.15 1389.90,738.20 C1397.32,739.25 1406.02,741.00 1412.20,742.60 C1418.38,744.20 1422.07,745.93 1427.00,747.80 C1431.93,749.67 1437.35,752.12 1441.80,753.80 C1446.25,755.48 1450.48,757.12 1453.70,757.90 C1456.92,758.68 1458.93,758.83 1461.10,758.50 C1463.27,758.17 1464.90,757.57 1466.70,755.90 C1468.50,754.23 1470.30,751.95 1471.90,748.50 C1473.50,745.05 1474.95,739.88 1476.30,735.20 C1477.65,730.52 1478.77,724.85 1480.00,720.40 C1481.23,715.95 1482.52,711.42 1483.70,708.50 C1484.88,705.58 1485.98,703.23 1487.10,702.90 C1488.22,702.57 1489.12,703.83 1490.40,706.50 C1491.68,709.17 1493.32,714.32 1494.80,718.90 C1496.28,723.48 1497.78,729.42 1499.30,734.00 C1500.82,738.58 1501.90,742.02 1503.90,746.40 C1505.90,750.78 1508.52,755.82 1511.30,760.30 C1514.08,764.78 1517.20,769.13 1520.60,773.30 C1524.00,777.47 1528.47,781.90 1531.70,785.30 C1534.93,788.70 1537.07,790.60 1540.00,793.70 C1542.93,796.80 1545.90,800.03 1549.30,803.90 C1552.70,807.77 1556.55,812.27 1560.40,816.90 C1564.25,821.53 1568.85,826.63 1572.40,831.70 C1575.95,836.77 1578.60,842.05 1581.70,847.30 C1584.80,852.55 1588.37,858.82 1591.00,863.20 C1593.63,867.58 1595.68,871.13 1597.50,873.60 C1599.32,876.07 1600.37,877.72 1601.90,878.00 C1603.43,878.28 1604.67,877.62 1606.70,875.30 C1608.73,872.98 1611.32,868.73 1614.10,864.10 C1616.88,859.47 1620.30,852.43 1623.40,847.50 C1626.50,842.57 1629.62,838.68 1632.70,834.50 C1635.78,830.32 1638.82,826.27 1641.90,822.40 C1644.98,818.53 1648.18,814.85 1651.20,811.30 C1654.22,807.75 1652.60,809.27 1660.00,801.10 C1667.40,792.93 1681.32,776.18 1695.60,762.30 C1709.88,748.42 1737.35,725.22 1745.70,717.80" fill="none" stroke="#0b4a94" stroke-width="1.1"/>
<path d="M1341.50,661.00 C1343.20,661.77 1347.22,663.17 1351.70,665.60 C1356.18,668.03 1362.85,671.70 1368.40,675.60 C1373.95,679.50 1380.57,685.47 1385.00,689.00 C1389.43,692.53 1392.22,694.40 1395.00,696.80 C1397.78,699.20 1398.83,700.77 1401.70,703.40 C1404.57,706.03 1407.48,708.13 1412.20,712.60 C1416.92,717.07 1425.07,725.07 1430.00,730.20 C1434.93,735.33 1438.35,739.02 1441.80,743.40 C1445.25,747.78 1448.23,752.23 1450.70,756.50 C1453.17,760.77 1454.62,763.92 1456.60,769.00 C1458.58,774.08 1460.77,782.13 1462.60,787.00 C1464.43,791.87 1466.12,797.70 1467.60,798.20 C1469.08,798.70 1470.33,794.08 1471.50,790.00 C1472.67,785.92 1473.30,782.58 1474.60,773.70 C1475.90,764.82 1477.85,748.48 1479.30,736.70 C1480.75,724.92 1482.13,710.53 1483.30,703.00 C1484.47,695.47 1485.45,693.83 1486.30,691.50 C1487.15,689.17 1487.53,688.67 1488.40,689.00 C1489.27,689.33 1490.30,689.27 1491.50,693.50 C1492.70,697.73 1494.30,708.68 1495.60,714.40 C1496.90,720.12 1497.92,722.47 1499.30,727.80 C1500.68,733.13 1501.90,740.98 1503.90,746.40 C1505.90,751.82 1508.52,755.82 1511.30,760.30 C1514.08,764.78 1517.20,769.13 1520.60,773.30 C1524.00,777.47 1528.47,781.90 1531.70,785.30 C1534.93,788.70 1537.07,790.60 1540.00,793.70 C1542.93,796.80 1545.90,800.03 1549.30,803.90 C1552.70,807.77 1556.55,812.27 1560.40,816.90 C1564.25,821.53 1568.85,826.63 1572.40,831.70 C1575.95,836.77 1578.60,842.05 1581.70,847.30 C1584.80,852.55 1588.37,858.82 1591.00,863.20 C1593.63,867.58 1595.68,871.13 1597.50,873.60 C1599.32,876.07 1600.37,877.72 1601.90,878.00 C1603.43,878.28 1604.67,877.62 1606.70,875.30 C1608.73,872.98 1611.32,868.73 1614.10,864.10 C1616.88,859.47 1620.30,852.43 1623.40,847.50 C1626.50,842.57 1629.62,838.68 1632.70,834.50 C1635.78,830.32 1638.82,826.27 1641.90,822.40 C1644.98,818.53 1648.18,814.85 1651.20,811.30 C1654.22,807.75 1652.60,809.27 1660.00,801.10 C1667.40,792.93 1681.32,776.18 1695.60,762.30 C1709.88,748.42 1737.35,725.22 1745.70,717.80" fill="none" stroke="#0c5a24" stroke-width="1.1"/>
<path d="M1511.30,760.30 C1512.85,762.47 1517.20,769.13 1520.60,773.30 C1524.00,777.47 1528.47,781.90 1531.70,785.30 C1534.93,788.70 1537.07,790.60 1540.00,793.70 C1542.93,796.80 1545.90,800.03 1549.30,803.90 C1552.70,807.77 1556.55,812.27 1560.40,816.90 C1564.25,821.53 1568.85,826.63 1572.40,831.70 C1575.95,836.77 1578.60,842.05 1581.70,847.30 C1584.80,852.55 1588.37,858.82 1591.00,863.20 C1593.63,867.58 1595.68,871.13 1597.50,873.60 C1599.32,876.07 1600.37,877.72 1601.90,878.00 C1603.43,878.28 1604.67,877.62 1606.70,875.30 C1608.73,872.98 1611.32,868.73 1614.10,864.10 C1616.88,859.47 1620.30,852.43 1623.40,847.50 C1626.50,842.57 1629.62,838.68 1632.70,834.50 C1635.78,830.32 1638.82,826.27 1641.90,822.40 C1644.98,818.53 1648.18,814.85 1651.20,811.30 C1654.22,807.75 1652.60,809.27 1660.00,801.10 C1667.40,792.93 1681.32,776.18 1695.60,762.30 C1709.88,748.42 1737.35,725.22 1745.70,717.80" fill="none" stroke="#0c5a24" stroke-width="1.35"/>
<path d="M1341.50,643.90 C1345.42,647.70 1359.25,661.12 1365.00,666.70 C1370.75,672.28 1372.10,673.52 1376.00,677.40 C1379.90,681.28 1382.37,684.20 1388.40,690.00 C1394.43,695.80 1405.27,705.53 1412.20,712.20 C1419.13,718.87 1425.07,724.80 1430.00,730.00 C1434.93,735.20 1438.35,738.95 1441.80,743.40 C1445.25,747.85 1448.23,752.25 1450.70,756.70 C1453.17,761.15 1454.62,764.42 1456.60,770.10 C1458.58,775.78 1460.77,784.15 1462.60,790.80 C1464.43,797.45 1466.00,808.90 1467.60,810.00 C1469.20,811.10 1470.75,804.68 1472.20,797.40 C1473.65,790.12 1475.00,776.92 1476.30,766.30 C1477.60,755.68 1478.77,744.32 1480.00,733.70 C1481.23,723.08 1482.58,710.00 1483.70,702.60 C1484.82,695.20 1485.83,692.07 1486.70,689.30 C1487.57,686.53 1488.03,685.52 1488.90,686.00 C1489.77,686.48 1490.78,687.47 1491.90,692.20 C1493.02,696.93 1494.37,708.47 1495.60,714.40 C1496.83,720.33 1497.92,722.47 1499.30,727.80 C1500.68,733.13 1501.90,740.98 1503.90,746.40 C1505.90,751.82 1508.52,755.82 1511.30,760.30 C1514.08,764.78 1517.20,769.13 1520.60,773.30 C1524.00,777.47 1528.47,781.90 1531.70,785.30 C1534.93,788.70 1537.07,790.60 1540.00,793.70 C1542.93,796.80 1545.90,800.03 1549.30,803.90 C1552.70,807.77 1556.55,812.27 1560.40,816.90 C1564.25,821.53 1568.85,826.63 1572.40,831.70 C1575.95,836.77 1578.60,842.05 1581.70,847.30 C1584.80,852.55 1588.37,858.82 1591.00,863.20 C1593.63,867.58 1595.68,871.13 1597.50,873.60 C1599.32,876.07 1600.37,877.72 1601.90,878.00 C1603.43,878.28 1604.67,877.62 1606.70,875.30 C1608.73,872.98 1611.32,868.73 1614.10,864.10 C1616.88,859.47 1620.30,852.43 1623.40,847.50 C1626.50,842.57 1629.62,838.68 1632.70,834.50 C1635.78,830.32 1638.82,826.27 1641.90,822.40 C1644.98,818.53 1648.18,814.85 1651.20,811.30 C1654.22,807.75 1652.60,809.27 1660.00,801.10 C1667.40,792.93 1681.32,776.18 1695.60,762.30 C1709.88,748.42 1737.35,725.22 1745.70,717.80" fill="none" stroke="#f4bb39" stroke-width="1.0"/>
<rect x="1757" y="731" width="15" height="3" fill="#ff0000"/>
<text x="1778" y="737.8" class="lg">User Zload/lisn=</text>
<rect x="1757" y="747" width="15" height="3" fill="#a874a5"/>
<text x="1778" y="753.8" class="lg">Zload/lisn=0</text>
<rect x="1757" y="763" width="15" height="3" fill="#0b4a94"/>
<text x="1778" y="769.8" class="lg">Zload/lisn=0.1</text>
<rect x="1757" y="779" width="15" height="3" fill="#0c5a24"/>
<text x="1778" y="785.8" class="lg">Zload/lisn=1</text>
<rect x="1757" y="795" width="15" height="3" fill="#f4bb39"/>
<text x="1778" y="801.8" class="lg">Zload/lisn=10</text>
</svg>
</body></html>
